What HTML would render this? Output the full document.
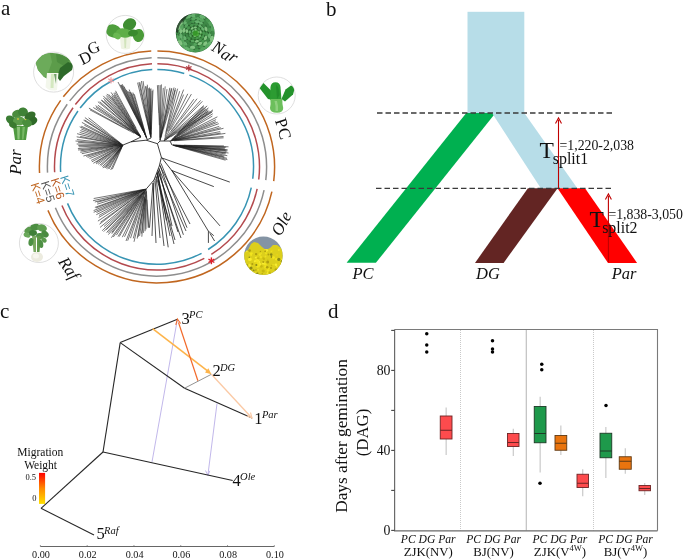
<!DOCTYPE html>
<html><head><meta charset="utf-8"><style>
html,body{margin:0;padding:0;background:#fff;}
body{width:685px;height:560px;overflow:hidden;font-family:"Liberation Serif",serif;}
svg{display:block;will-change:transform;}
</style></head><body>
<svg width="685" height="560" viewBox="0 0 685 560">
<defs>
<radialGradient id="gNar" cx="55%" cy="55%" r="55%"><stop offset="0" stop-color="#3a9a2c"/><stop offset="0.3" stop-color="#357f38"/><stop offset="0.8" stop-color="#367a40"/><stop offset="1" stop-color="#24502c"/></radialGradient>
<linearGradient id="gOle" x1="0" y1="0" x2="0" y2="1"><stop offset="0" stop-color="#8a9bab"/><stop offset="0.3" stop-color="#9aa37a"/><stop offset="0.4" stop-color="#d8cf1c"/><stop offset="1" stop-color="#c8b818"/></linearGradient>
<linearGradient id="gMig" x1="0" y1="1" x2="0" y2="0"><stop offset="0" stop-color="#ffe000"/><stop offset="0.5" stop-color="#ff8a00"/><stop offset="1" stop-color="#ff0000"/></linearGradient>
<clipPath id="cDG"><circle cx="125.2" cy="34.4" r="19"/></clipPath>
<clipPath id="cBC"><circle cx="53.6" cy="72.1" r="20"/></clipPath>
<clipPath id="cNar"><circle cx="195.2" cy="33" r="19.4"/></clipPath>
<clipPath id="cPC"><circle cx="276.7" cy="95.5" r="18.5"/></clipPath>
<clipPath id="cRaf"><circle cx="38.9" cy="243" r="19.5"/></clipPath>
<clipPath id="cOle"><circle cx="263.4" cy="255.7" r="19.2"/></clipPath>
</defs>
<rect width="685" height="560" fill="#fff"/>
<path d="M271.90,191.61A117.6,116.0 0 0 1 47.96,210.35 M39.56,172.97A117.6,116.0 0 0 1 60.67,100.37 M63.33,96.77A117.6,116.0 0 0 1 151.26,51.04 M157.41,50.90A117.6,116.0 0 0 1 273.72,181.04" fill="none" stroke="#c0661f" stroke-width="1.5"/><path d="M264.08,190.16A109.6,109.2 0 0 1 55.38,207.81 M47.55,172.62A109.6,109.2 0 0 1 67.22,104.27 M69.70,100.88A109.6,109.2 0 0 1 151.65,57.83 M157.38,57.70A109.6,109.2 0 0 1 265.78,180.21" fill="none" stroke="#8e8e8e" stroke-width="1.5"/><path d="M257.15,188.88A102.5,103.2 0 0 1 211.32,254.42 M204.33,258.44A102.5,103.2 0 0 1 61.96,205.56 M54.64,172.30A102.5,103.2 0 0 1 73.04,107.71 M75.36,104.51A102.5,103.2 0 0 1 151.99,63.82 M157.36,63.70A102.5,103.2 0 0 1 258.74,179.48" fill="none" stroke="#b44a4e" stroke-width="1.5"/><path d="M251.28,187.65A96.5,97.4 0 0 1 208.14,249.50 M201.56,253.29A96.5,97.4 0 0 1 67.53,203.39 M60.63,172.00A96.5,97.4 0 0 1 77.95,111.03 M80.13,108.01A96.5,97.4 0 0 1 152.29,69.62 M157.34,69.50A96.5,97.4 0 0 1 184.25,73.46 M189.37,75.14A96.5,97.4 0 0 1 252.78,178.77" fill="none" stroke="#3794b3" stroke-width="1.5"/><line x1="111.00" y1="77.20" x2="111.00" y2="83.60" stroke="#f0a0a4" stroke-width="1.2"/><line x1="113.77" y1="78.80" x2="108.23" y2="82.00" stroke="#f0a0a4" stroke-width="1.2"/><line x1="113.77" y1="82.00" x2="108.23" y2="78.80" stroke="#f0a0a4" stroke-width="1.2"/><line x1="188.80" y1="64.80" x2="188.80" y2="71.20" stroke="#b23a40" stroke-width="1.2"/><line x1="191.57" y1="66.40" x2="186.03" y2="69.60" stroke="#b23a40" stroke-width="1.2"/><line x1="191.57" y1="69.60" x2="186.03" y2="66.40" stroke="#b23a40" stroke-width="1.2"/><line x1="211.40" y1="257.40" x2="211.40" y2="264.20" stroke="#e0202a" stroke-width="1.4"/><line x1="214.34" y1="259.10" x2="208.46" y2="262.50" stroke="#e0202a" stroke-width="1.4"/><line x1="214.34" y1="262.50" x2="208.46" y2="259.10" stroke="#e0202a" stroke-width="1.4"/><line x1="157.4" y1="143.7" x2="146.2" y2="140.2" stroke="#1a1a1a" stroke-width="0.85"/><line x1="146.2" y1="140.2" x2="131.0" y2="141.8" stroke="#1a1a1a" stroke-width="0.85"/><line x1="131.0" y1="141.8" x2="123.0" y2="145.0" stroke="#1a1a1a" stroke-width="0.85"/><line x1="146.2" y1="140.2" x2="151.0" y2="138.0" stroke="#1a1a1a" stroke-width="0.85"/><line x1="131.0" y1="141.8" x2="141.0" y2="137.0" stroke="#1a1a1a" stroke-width="0.85"/><line x1="157.4" y1="143.7" x2="160.0" y2="141.0" stroke="#1a1a1a" stroke-width="0.85"/><line x1="160.0" y1="141.0" x2="164.0" y2="141.0" stroke="#1a1a1a" stroke-width="0.85"/><line x1="164.0" y1="141.0" x2="170.0" y2="141.0" stroke="#1a1a1a" stroke-width="0.85"/><line x1="170.0" y1="141.0" x2="172.0" y2="145.0" stroke="#1a1a1a" stroke-width="0.85"/><line x1="157.4" y1="143.7" x2="161.4" y2="157.3" stroke="#1a1a1a" stroke-width="0.85"/><line x1="161.4" y1="157.3" x2="159.3" y2="166.0" stroke="#1a1a1a" stroke-width="0.85"/><line x1="159.3" y1="166.0" x2="154.0" y2="180.0" stroke="#1a1a1a" stroke-width="0.85"/><line x1="154.0" y1="180.0" x2="146.3" y2="188.9" stroke="#1a1a1a" stroke-width="0.85"/><line x1="161.4" y1="157.3" x2="172.0" y2="170.8" stroke="#1a1a1a" stroke-width="0.85"/><line x1="146.2" y1="118.2" x2="137.6" y2="82.7" stroke="#1a1a1a" stroke-width="0.6"/><line x1="150.8" y1="137.1" x2="146.2" y2="118.2" stroke="#1a1a1a" stroke-width="0.48"/><line x1="150.6" y1="136.2" x2="138.9" y2="82.2" stroke="#1a1a1a" stroke-width="0.6"/><line x1="150.9" y1="137.5" x2="150.6" y2="136.2" stroke="#1a1a1a" stroke-width="0.48"/><line x1="150.6" y1="135.9" x2="139.8" y2="82.2" stroke="#1a1a1a" stroke-width="0.6"/><line x1="151.0" y1="137.9" x2="150.6" y2="135.9" stroke="#1a1a1a" stroke-width="0.48"/><line x1="150.3" y1="134.1" x2="141.4" y2="81.0" stroke="#1a1a1a" stroke-width="0.6"/><line x1="150.9" y1="137.5" x2="150.3" y2="134.1" stroke="#1a1a1a" stroke-width="0.48"/><line x1="148.5" y1="119.9" x2="143.1" y2="81.1" stroke="#1a1a1a" stroke-width="0.6"/><line x1="150.4" y1="133.7" x2="148.5" y2="119.9" stroke="#1a1a1a" stroke-width="0.48"/><line x1="148.4" y1="113.6" x2="145.5" y2="86.3" stroke="#1a1a1a" stroke-width="0.6"/><line x1="150.6" y1="133.8" x2="148.4" y2="113.6" stroke="#1a1a1a" stroke-width="0.48"/><line x1="150.2" y1="129.2" x2="146.1" y2="86.2" stroke="#1a1a1a" stroke-width="0.6"/><line x1="150.6" y1="133.7" x2="150.2" y2="129.2" stroke="#1a1a1a" stroke-width="0.48"/><line x1="149.7" y1="119.3" x2="147.3" y2="84.7" stroke="#1a1a1a" stroke-width="0.6"/><line x1="150.7" y1="133.8" x2="149.7" y2="119.3" stroke="#1a1a1a" stroke-width="0.48"/><line x1="150.9" y1="136.4" x2="148.6" y2="88.3" stroke="#1a1a1a" stroke-width="0.6"/><line x1="151.0" y1="137.8" x2="150.9" y2="136.4" stroke="#1a1a1a" stroke-width="0.48"/><line x1="150.7" y1="129.3" x2="149.5" y2="87.5" stroke="#1a1a1a" stroke-width="0.6"/><line x1="150.9" y1="134.9" x2="150.7" y2="129.3" stroke="#1a1a1a" stroke-width="0.48"/><line x1="150.7" y1="116.5" x2="150.2" y2="88.9" stroke="#1a1a1a" stroke-width="0.6"/><line x1="150.9" y1="129.0" x2="150.7" y2="116.5" stroke="#1a1a1a" stroke-width="0.48"/><line x1="151.0" y1="123.7" x2="151.0" y2="88.4" stroke="#1a1a1a" stroke-width="0.6"/><line x1="151.0" y1="130.5" x2="151.0" y2="123.7" stroke="#1a1a1a" stroke-width="0.48"/><line x1="151.6" y1="112.6" x2="152.2" y2="90.9" stroke="#1a1a1a" stroke-width="0.6"/><line x1="151.0" y1="136.2" x2="151.6" y2="112.6" stroke="#1a1a1a" stroke-width="0.48"/><line x1="151.2" y1="134.0" x2="153.0" y2="89.6" stroke="#1a1a1a" stroke-width="0.6"/><line x1="151.0" y1="136.8" x2="151.2" y2="134.0" stroke="#1a1a1a" stroke-width="0.48"/><line x1="134.8" y1="115.0" x2="118.0" y2="82.0" stroke="#1a1a1a" stroke-width="0.6"/><line x1="142.8" y1="130.8" x2="134.8" y2="115.0" stroke="#1a1a1a" stroke-width="0.48"/><line x1="136.8" y1="118.3" x2="120.4" y2="84.9" stroke="#1a1a1a" stroke-width="0.6"/><line x1="143.4" y1="131.6" x2="136.8" y2="118.3" stroke="#1a1a1a" stroke-width="0.48"/><line x1="135.0" y1="114.0" x2="121.0" y2="84.9" stroke="#1a1a1a" stroke-width="0.6"/><line x1="140.2" y1="124.8" x2="135.0" y2="114.0" stroke="#1a1a1a" stroke-width="0.48"/><line x1="146.2" y1="137.2" x2="121.7" y2="84.8" stroke="#1a1a1a" stroke-width="0.6"/><line x1="146.6" y1="138.2" x2="146.2" y2="137.2" stroke="#1a1a1a" stroke-width="0.48"/><line x1="135.9" y1="114.2" x2="122.3" y2="84.2" stroke="#1a1a1a" stroke-width="0.6"/><line x1="145.1" y1="134.8" x2="135.9" y2="114.2" stroke="#1a1a1a" stroke-width="0.48"/><line x1="146.7" y1="138.3" x2="124.1" y2="86.5" stroke="#1a1a1a" stroke-width="0.6"/><line x1="145.7" y1="135.8" x2="126.3" y2="89.8" stroke="#1a1a1a" stroke-width="0.6"/><line x1="147.0" y1="138.9" x2="145.7" y2="135.8" stroke="#1a1a1a" stroke-width="0.48"/><line x1="144.4" y1="132.5" x2="127.8" y2="91.0" stroke="#1a1a1a" stroke-width="0.6"/><line x1="146.4" y1="137.5" x2="144.4" y2="132.5" stroke="#1a1a1a" stroke-width="0.48"/><line x1="142.6" y1="127.4" x2="129.2" y2="92.0" stroke="#1a1a1a" stroke-width="0.6"/><line x1="145.5" y1="135.2" x2="142.6" y2="127.4" stroke="#1a1a1a" stroke-width="0.48"/><line x1="138.5" y1="115.5" x2="129.2" y2="89.5" stroke="#1a1a1a" stroke-width="0.6"/><line x1="145.6" y1="135.1" x2="138.5" y2="115.5" stroke="#1a1a1a" stroke-width="0.48"/><line x1="139.1" y1="116.1" x2="130.7" y2="92.0" stroke="#1a1a1a" stroke-width="0.6"/><line x1="142.4" y1="125.9" x2="139.1" y2="116.1" stroke="#1a1a1a" stroke-width="0.48"/><line x1="145.1" y1="133.2" x2="131.9" y2="93.4" stroke="#1a1a1a" stroke-width="0.6"/><line x1="146.7" y1="138.2" x2="145.1" y2="133.2" stroke="#1a1a1a" stroke-width="0.48"/><line x1="145.0" y1="132.3" x2="132.9" y2="92.5" stroke="#1a1a1a" stroke-width="0.6"/><line x1="147.0" y1="139.0" x2="145.0" y2="132.3" stroke="#1a1a1a" stroke-width="0.48"/><line x1="143.0" y1="125.0" x2="134.3" y2="94.2" stroke="#1a1a1a" stroke-width="0.6"/><line x1="144.7" y1="131.0" x2="143.0" y2="125.0" stroke="#1a1a1a" stroke-width="0.48"/><line x1="123.6" y1="127.8" x2="89.9" y2="109.8" stroke="#1a1a1a" stroke-width="0.6"/><line x1="134.0" y1="133.3" x2="123.6" y2="127.8" stroke="#1a1a1a" stroke-width="0.48"/><line x1="118.6" y1="124.6" x2="88.9" y2="108.1" stroke="#1a1a1a" stroke-width="0.6"/><line x1="129.3" y1="130.5" x2="118.6" y2="124.6" stroke="#1a1a1a" stroke-width="0.48"/><line x1="130.5" y1="130.5" x2="93.3" y2="107.5" stroke="#1a1a1a" stroke-width="0.6"/><line x1="140.3" y1="136.6" x2="130.5" y2="130.5" stroke="#1a1a1a" stroke-width="0.48"/><line x1="139.3" y1="135.9" x2="95.9" y2="107.3" stroke="#1a1a1a" stroke-width="0.6"/><line x1="140.8" y1="136.9" x2="139.3" y2="135.9" stroke="#1a1a1a" stroke-width="0.48"/><line x1="139.7" y1="136.1" x2="95.6" y2="105.7" stroke="#1a1a1a" stroke-width="0.6"/><line x1="141.0" y1="137.0" x2="139.7" y2="136.1" stroke="#1a1a1a" stroke-width="0.48"/><line x1="132.4" y1="130.6" x2="97.9" y2="105.2" stroke="#1a1a1a" stroke-width="0.6"/><line x1="140.9" y1="136.9" x2="132.4" y2="130.6" stroke="#1a1a1a" stroke-width="0.48"/><line x1="137.5" y1="134.1" x2="97.9" y2="101.7" stroke="#1a1a1a" stroke-width="0.6"/><line x1="140.5" y1="136.6" x2="137.5" y2="134.1" stroke="#1a1a1a" stroke-width="0.48"/><line x1="138.2" y1="134.6" x2="99.7" y2="101.7" stroke="#1a1a1a" stroke-width="0.6"/><line x1="139.6" y1="135.8" x2="138.2" y2="134.6" stroke="#1a1a1a" stroke-width="0.48"/><line x1="130.4" y1="127.1" x2="101.1" y2="100.0" stroke="#1a1a1a" stroke-width="0.6"/><line x1="140.5" y1="136.5" x2="130.4" y2="127.1" stroke="#1a1a1a" stroke-width="0.48"/><line x1="135.3" y1="131.6" x2="101.9" y2="100.2" stroke="#1a1a1a" stroke-width="0.6"/><line x1="138.2" y1="134.3" x2="135.3" y2="131.6" stroke="#1a1a1a" stroke-width="0.48"/><line x1="121.7" y1="118.0" x2="104.2" y2="100.6" stroke="#1a1a1a" stroke-width="0.6"/><line x1="134.9" y1="131.0" x2="121.7" y2="118.0" stroke="#1a1a1a" stroke-width="0.48"/><line x1="140.4" y1="136.4" x2="103.4" y2="98.2" stroke="#1a1a1a" stroke-width="0.6"/><line x1="123.1" y1="117.5" x2="103.3" y2="95.9" stroke="#1a1a1a" stroke-width="0.6"/><line x1="133.5" y1="128.8" x2="123.1" y2="117.5" stroke="#1a1a1a" stroke-width="0.48"/><line x1="137.8" y1="133.4" x2="106.2" y2="97.6" stroke="#1a1a1a" stroke-width="0.6"/><line x1="139.5" y1="135.3" x2="137.8" y2="133.4" stroke="#1a1a1a" stroke-width="0.48"/><line x1="134.7" y1="129.5" x2="106.2" y2="95.4" stroke="#1a1a1a" stroke-width="0.6"/><line x1="140.2" y1="136.0" x2="134.7" y2="129.5" stroke="#1a1a1a" stroke-width="0.48"/><line x1="125.0" y1="116.8" x2="106.9" y2="93.9" stroke="#1a1a1a" stroke-width="0.6"/><line x1="133.3" y1="127.2" x2="125.0" y2="116.8" stroke="#1a1a1a" stroke-width="0.48"/><line x1="137.0" y1="131.7" x2="108.7" y2="94.3" stroke="#1a1a1a" stroke-width="0.6"/><line x1="139.7" y1="135.3" x2="137.0" y2="131.7" stroke="#1a1a1a" stroke-width="0.48"/><line x1="140.5" y1="136.4" x2="111.4" y2="96.8" stroke="#1a1a1a" stroke-width="0.6"/><line x1="129.9" y1="121.2" x2="111.7" y2="95.5" stroke="#1a1a1a" stroke-width="0.6"/><line x1="134.6" y1="127.9" x2="129.9" y2="121.2" stroke="#1a1a1a" stroke-width="0.48"/><line x1="124.7" y1="112.8" x2="111.1" y2="92.4" stroke="#1a1a1a" stroke-width="0.6"/><line x1="131.7" y1="123.1" x2="124.7" y2="112.8" stroke="#1a1a1a" stroke-width="0.48"/><line x1="137.6" y1="131.7" x2="113.9" y2="94.9" stroke="#1a1a1a" stroke-width="0.6"/><line x1="140.6" y1="136.4" x2="137.6" y2="131.7" stroke="#1a1a1a" stroke-width="0.48"/><line x1="127.5" y1="115.2" x2="113.8" y2="92.9" stroke="#1a1a1a" stroke-width="0.6"/><line x1="134.2" y1="126.0" x2="127.5" y2="115.2" stroke="#1a1a1a" stroke-width="0.48"/><line x1="129.6" y1="117.3" x2="115.0" y2="92.3" stroke="#1a1a1a" stroke-width="0.6"/><line x1="140.4" y1="136.0" x2="129.6" y2="117.3" stroke="#1a1a1a" stroke-width="0.48"/><line x1="130.0" y1="117.1" x2="115.5" y2="90.8" stroke="#1a1a1a" stroke-width="0.6"/><line x1="136.1" y1="128.1" x2="130.0" y2="117.1" stroke="#1a1a1a" stroke-width="0.48"/><line x1="108.1" y1="133.2" x2="88.6" y2="117.8" stroke="#1a1a1a" stroke-width="0.6"/><line x1="120.0" y1="142.6" x2="108.1" y2="133.2" stroke="#1a1a1a" stroke-width="0.48"/><line x1="114.7" y1="139.0" x2="84.9" y2="117.6" stroke="#1a1a1a" stroke-width="0.6"/><line x1="121.0" y1="143.6" x2="114.7" y2="139.0" stroke="#1a1a1a" stroke-width="0.48"/><line x1="119.4" y1="142.7" x2="84.6" y2="119.9" stroke="#1a1a1a" stroke-width="0.6"/><line x1="122.7" y1="144.8" x2="119.4" y2="142.7" stroke="#1a1a1a" stroke-width="0.48"/><line x1="105.5" y1="134.0" x2="83.6" y2="120.2" stroke="#1a1a1a" stroke-width="0.6"/><line x1="121.5" y1="144.0" x2="105.5" y2="134.0" stroke="#1a1a1a" stroke-width="0.48"/><line x1="108.2" y1="136.8" x2="81.9" y2="122.4" stroke="#1a1a1a" stroke-width="0.6"/><line x1="119.9" y1="143.3" x2="108.2" y2="136.8" stroke="#1a1a1a" stroke-width="0.48"/><line x1="122.7" y1="144.8" x2="84.3" y2="125.2" stroke="#1a1a1a" stroke-width="0.6"/><line x1="110.9" y1="139.6" x2="81.2" y2="126.2" stroke="#1a1a1a" stroke-width="0.6"/><line x1="116.2" y1="142.0" x2="110.9" y2="139.6" stroke="#1a1a1a" stroke-width="0.48"/><line x1="103.3" y1="136.7" x2="79.7" y2="126.8" stroke="#1a1a1a" stroke-width="0.6"/><line x1="120.5" y1="144.0" x2="103.3" y2="136.7" stroke="#1a1a1a" stroke-width="0.48"/><line x1="117.5" y1="142.9" x2="81.3" y2="129.1" stroke="#1a1a1a" stroke-width="0.6"/><line x1="121.1" y1="144.3" x2="117.5" y2="142.9" stroke="#1a1a1a" stroke-width="0.48"/><line x1="119.9" y1="144.0" x2="80.3" y2="130.6" stroke="#1a1a1a" stroke-width="0.6"/><line x1="121.3" y1="144.4" x2="119.9" y2="144.0" stroke="#1a1a1a" stroke-width="0.48"/><line x1="109.1" y1="141.0" x2="79.6" y2="132.4" stroke="#1a1a1a" stroke-width="0.6"/><line x1="115.4" y1="142.8" x2="109.1" y2="141.0" stroke="#1a1a1a" stroke-width="0.48"/><line x1="110.3" y1="141.9" x2="77.1" y2="133.7" stroke="#1a1a1a" stroke-width="0.6"/><line x1="119.0" y1="144.0" x2="110.3" y2="141.9" stroke="#1a1a1a" stroke-width="0.48"/><line x1="112.6" y1="142.9" x2="80.2" y2="136.4" stroke="#1a1a1a" stroke-width="0.6"/><line x1="121.9" y1="144.8" x2="112.6" y2="142.9" stroke="#1a1a1a" stroke-width="0.48"/><line x1="118.6" y1="144.2" x2="76.7" y2="136.8" stroke="#1a1a1a" stroke-width="0.6"/><line x1="121.8" y1="144.8" x2="118.6" y2="144.2" stroke="#1a1a1a" stroke-width="0.48"/><line x1="114.7" y1="144.0" x2="76.9" y2="139.6" stroke="#1a1a1a" stroke-width="0.6"/><line x1="120.4" y1="144.7" x2="114.7" y2="144.0" stroke="#1a1a1a" stroke-width="0.48"/><line x1="120.2" y1="144.8" x2="75.5" y2="141.0" stroke="#1a1a1a" stroke-width="0.6"/><line x1="122.1" y1="144.9" x2="120.2" y2="144.8" stroke="#1a1a1a" stroke-width="0.48"/><line x1="103.9" y1="143.9" x2="78.1" y2="142.3" stroke="#1a1a1a" stroke-width="0.6"/><line x1="117.2" y1="144.7" x2="103.9" y2="143.9" stroke="#1a1a1a" stroke-width="0.48"/><line x1="99.8" y1="144.5" x2="76.7" y2="144.0" stroke="#1a1a1a" stroke-width="0.6"/><line x1="116.8" y1="144.9" x2="99.8" y2="144.5" stroke="#1a1a1a" stroke-width="0.48"/><line x1="110.4" y1="145.1" x2="78.3" y2="145.5" stroke="#1a1a1a" stroke-width="0.6"/><line x1="117.8" y1="145.1" x2="110.4" y2="145.1" stroke="#1a1a1a" stroke-width="0.48"/><line x1="111.3" y1="145.5" x2="78.7" y2="146.8" stroke="#1a1a1a" stroke-width="0.6"/><line x1="116.4" y1="145.3" x2="111.3" y2="145.5" stroke="#1a1a1a" stroke-width="0.48"/><line x1="99.6" y1="146.9" x2="77.9" y2="148.6" stroke="#1a1a1a" stroke-width="0.6"/><line x1="119.4" y1="145.3" x2="99.6" y2="146.9" stroke="#1a1a1a" stroke-width="0.48"/><line x1="102.3" y1="147.3" x2="78.1" y2="150.0" stroke="#1a1a1a" stroke-width="0.6"/><line x1="121.3" y1="145.2" x2="102.3" y2="147.3" stroke="#1a1a1a" stroke-width="0.48"/><line x1="121.3" y1="145.2" x2="80.5" y2="150.8" stroke="#1a1a1a" stroke-width="0.6"/><line x1="122.8" y1="145.0" x2="121.3" y2="145.2" stroke="#1a1a1a" stroke-width="0.48"/><line x1="104.6" y1="148.1" x2="80.3" y2="152.3" stroke="#1a1a1a" stroke-width="0.6"/><line x1="113.1" y1="146.7" x2="104.6" y2="148.1" stroke="#1a1a1a" stroke-width="0.48"/><line x1="108.0" y1="148.2" x2="81.8" y2="153.7" stroke="#1a1a1a" stroke-width="0.6"/><line x1="121.7" y1="145.3" x2="108.0" y2="148.2" stroke="#1a1a1a" stroke-width="0.48"/><line x1="118.2" y1="146.3" x2="83.4" y2="156.0" stroke="#1a1a1a" stroke-width="0.6"/><line x1="120.3" y1="145.8" x2="118.2" y2="146.3" stroke="#1a1a1a" stroke-width="0.48"/><line x1="102.9" y1="151.2" x2="86.1" y2="156.4" stroke="#1a1a1a" stroke-width="0.6"/><line x1="113.0" y1="148.1" x2="102.9" y2="151.2" stroke="#1a1a1a" stroke-width="0.48"/><line x1="113.0" y1="148.5" x2="87.6" y2="157.4" stroke="#1a1a1a" stroke-width="0.6"/><line x1="121.0" y1="145.7" x2="113.0" y2="148.5" stroke="#1a1a1a" stroke-width="0.48"/><line x1="109.7" y1="150.4" x2="89.5" y2="158.6" stroke="#1a1a1a" stroke-width="0.6"/><line x1="122.8" y1="145.1" x2="109.7" y2="150.4" stroke="#1a1a1a" stroke-width="0.48"/><line x1="122.7" y1="145.2" x2="91.1" y2="160.4" stroke="#1a1a1a" stroke-width="0.6"/><line x1="114.2" y1="149.7" x2="91.9" y2="161.8" stroke="#1a1a1a" stroke-width="0.6"/><line x1="122.7" y1="145.2" x2="114.2" y2="149.7" stroke="#1a1a1a" stroke-width="0.48"/><line x1="107.2" y1="154.8" x2="93.4" y2="163.3" stroke="#1a1a1a" stroke-width="0.6"/><line x1="122.0" y1="145.6" x2="107.2" y2="154.8" stroke="#1a1a1a" stroke-width="0.48"/><line x1="111.4" y1="152.5" x2="95.9" y2="162.5" stroke="#1a1a1a" stroke-width="0.6"/><line x1="121.1" y1="146.2" x2="111.4" y2="152.5" stroke="#1a1a1a" stroke-width="0.48"/><line x1="109.5" y1="154.5" x2="96.1" y2="163.9" stroke="#1a1a1a" stroke-width="0.6"/><line x1="116.4" y1="149.6" x2="109.5" y2="154.5" stroke="#1a1a1a" stroke-width="0.48"/><line x1="110.4" y1="154.7" x2="98.1" y2="164.3" stroke="#1a1a1a" stroke-width="0.6"/><line x1="118.7" y1="148.3" x2="110.4" y2="154.7" stroke="#1a1a1a" stroke-width="0.48"/><line x1="122.3" y1="145.6" x2="99.8" y2="165.2" stroke="#1a1a1a" stroke-width="0.6"/><line x1="122.7" y1="145.3" x2="122.3" y2="145.6" stroke="#1a1a1a" stroke-width="0.48"/><line x1="111.5" y1="155.7" x2="100.8" y2="165.8" stroke="#1a1a1a" stroke-width="0.6"/><line x1="118.6" y1="149.1" x2="111.5" y2="155.7" stroke="#1a1a1a" stroke-width="0.48"/><line x1="113.2" y1="155.3" x2="102.3" y2="166.8" stroke="#1a1a1a" stroke-width="0.6"/><line x1="122.6" y1="145.4" x2="113.2" y2="155.3" stroke="#1a1a1a" stroke-width="0.48"/><line x1="119.3" y1="149.3" x2="102.9" y2="168.1" stroke="#1a1a1a" stroke-width="0.6"/><line x1="121.8" y1="146.4" x2="119.3" y2="149.3" stroke="#1a1a1a" stroke-width="0.48"/><line x1="121.7" y1="146.6" x2="104.6" y2="168.0" stroke="#1a1a1a" stroke-width="0.6"/><line x1="122.6" y1="145.5" x2="121.7" y2="146.6" stroke="#1a1a1a" stroke-width="0.48"/><line x1="121.5" y1="147.0" x2="105.6" y2="167.8" stroke="#1a1a1a" stroke-width="0.6"/><line x1="123.0" y1="145.1" x2="121.5" y2="147.0" stroke="#1a1a1a" stroke-width="0.48"/><line x1="120.2" y1="148.9" x2="106.5" y2="168.5" stroke="#1a1a1a" stroke-width="0.6"/><line x1="121.7" y1="146.8" x2="120.2" y2="148.9" stroke="#1a1a1a" stroke-width="0.48"/><line x1="121.5" y1="147.4" x2="107.7" y2="169.2" stroke="#1a1a1a" stroke-width="0.6"/><line x1="122.7" y1="145.5" x2="121.5" y2="147.4" stroke="#1a1a1a" stroke-width="0.48"/><line x1="122.9" y1="145.2" x2="109.1" y2="168.9" stroke="#1a1a1a" stroke-width="0.6"/><line x1="121.7" y1="147.6" x2="110.7" y2="170.0" stroke="#1a1a1a" stroke-width="0.6"/><line x1="122.6" y1="145.7" x2="121.7" y2="147.6" stroke="#1a1a1a" stroke-width="0.48"/><line x1="118.2" y1="155.9" x2="112.3" y2="169.2" stroke="#1a1a1a" stroke-width="0.6"/><line x1="121.7" y1="147.8" x2="118.2" y2="155.9" stroke="#1a1a1a" stroke-width="0.48"/><line x1="134.9" y1="191.0" x2="93.7" y2="198.5" stroke="#1a1a1a" stroke-width="0.6"/><line x1="142.8" y1="189.5" x2="134.9" y2="191.0" stroke="#1a1a1a" stroke-width="0.48"/><line x1="136.3" y1="191.1" x2="93.1" y2="200.7" stroke="#1a1a1a" stroke-width="0.6"/><line x1="141.3" y1="190.0" x2="136.3" y2="191.1" stroke="#1a1a1a" stroke-width="0.48"/><line x1="134.8" y1="191.8" x2="94.8" y2="202.0" stroke="#1a1a1a" stroke-width="0.6"/><line x1="143.9" y1="189.5" x2="134.8" y2="191.8" stroke="#1a1a1a" stroke-width="0.48"/><line x1="144.4" y1="189.4" x2="97.2" y2="202.3" stroke="#1a1a1a" stroke-width="0.6"/><line x1="145.5" y1="189.1" x2="144.4" y2="189.4" stroke="#1a1a1a" stroke-width="0.48"/><line x1="144.0" y1="189.6" x2="97.1" y2="204.2" stroke="#1a1a1a" stroke-width="0.6"/><line x1="145.1" y1="189.3" x2="144.0" y2="189.6" stroke="#1a1a1a" stroke-width="0.48"/><line x1="138.3" y1="191.8" x2="94.9" y2="207.4" stroke="#1a1a1a" stroke-width="0.6"/><line x1="145.1" y1="189.3" x2="138.3" y2="191.8" stroke="#1a1a1a" stroke-width="0.48"/><line x1="141.9" y1="190.6" x2="95.9" y2="208.0" stroke="#1a1a1a" stroke-width="0.6"/><line x1="145.1" y1="189.3" x2="141.9" y2="190.6" stroke="#1a1a1a" stroke-width="0.48"/><line x1="118.1" y1="200.5" x2="93.6" y2="210.6" stroke="#1a1a1a" stroke-width="0.6"/><line x1="137.1" y1="192.7" x2="118.1" y2="200.5" stroke="#1a1a1a" stroke-width="0.48"/><line x1="137.3" y1="192.9" x2="93.7" y2="212.3" stroke="#1a1a1a" stroke-width="0.6"/><line x1="144.4" y1="189.8" x2="137.3" y2="192.9" stroke="#1a1a1a" stroke-width="0.48"/><line x1="133.3" y1="195.1" x2="96.5" y2="212.5" stroke="#1a1a1a" stroke-width="0.6"/><line x1="142.4" y1="190.8" x2="133.3" y2="195.1" stroke="#1a1a1a" stroke-width="0.48"/><line x1="146.2" y1="189.0" x2="96.3" y2="214.7" stroke="#1a1a1a" stroke-width="0.6"/><line x1="135.9" y1="194.7" x2="99.0" y2="215.5" stroke="#1a1a1a" stroke-width="0.6"/><line x1="146.0" y1="189.0" x2="135.9" y2="194.7" stroke="#1a1a1a" stroke-width="0.48"/><line x1="140.2" y1="192.6" x2="98.7" y2="217.5" stroke="#1a1a1a" stroke-width="0.6"/><line x1="144.2" y1="190.2" x2="140.2" y2="192.6" stroke="#1a1a1a" stroke-width="0.48"/><line x1="128.8" y1="200.5" x2="97.9" y2="221.1" stroke="#1a1a1a" stroke-width="0.6"/><line x1="138.8" y1="193.9" x2="128.8" y2="200.5" stroke="#1a1a1a" stroke-width="0.48"/><line x1="138.1" y1="194.9" x2="100.5" y2="222.2" stroke="#1a1a1a" stroke-width="0.6"/><line x1="141.4" y1="192.4" x2="138.1" y2="194.9" stroke="#1a1a1a" stroke-width="0.48"/><line x1="129.7" y1="201.4" x2="99.5" y2="224.2" stroke="#1a1a1a" stroke-width="0.6"/><line x1="145.9" y1="189.2" x2="129.7" y2="201.4" stroke="#1a1a1a" stroke-width="0.48"/><line x1="130.4" y1="202.2" x2="100.1" y2="227.4" stroke="#1a1a1a" stroke-width="0.6"/><line x1="139.3" y1="194.7" x2="130.4" y2="202.2" stroke="#1a1a1a" stroke-width="0.48"/><line x1="134.1" y1="199.7" x2="104.0" y2="226.5" stroke="#1a1a1a" stroke-width="0.6"/><line x1="142.6" y1="192.2" x2="134.1" y2="199.7" stroke="#1a1a1a" stroke-width="0.48"/><line x1="126.2" y1="207.9" x2="102.2" y2="230.7" stroke="#1a1a1a" stroke-width="0.6"/><line x1="139.3" y1="195.6" x2="126.2" y2="207.9" stroke="#1a1a1a" stroke-width="0.48"/><line x1="130.1" y1="205.2" x2="103.7" y2="231.6" stroke="#1a1a1a" stroke-width="0.6"/><line x1="144.1" y1="191.1" x2="130.1" y2="205.2" stroke="#1a1a1a" stroke-width="0.48"/><line x1="138.4" y1="197.0" x2="106.3" y2="229.8" stroke="#1a1a1a" stroke-width="0.6"/><line x1="145.8" y1="189.4" x2="138.4" y2="197.0" stroke="#1a1a1a" stroke-width="0.48"/><line x1="132.6" y1="203.9" x2="106.6" y2="232.5" stroke="#1a1a1a" stroke-width="0.6"/><line x1="141.2" y1="194.6" x2="132.6" y2="203.9" stroke="#1a1a1a" stroke-width="0.48"/><line x1="146.2" y1="189.0" x2="108.0" y2="232.8" stroke="#1a1a1a" stroke-width="0.6"/><line x1="135.8" y1="201.6" x2="108.4" y2="234.6" stroke="#1a1a1a" stroke-width="0.6"/><line x1="142.9" y1="193.0" x2="135.8" y2="201.6" stroke="#1a1a1a" stroke-width="0.48"/><line x1="132.3" y1="206.5" x2="111.8" y2="232.4" stroke="#1a1a1a" stroke-width="0.6"/><line x1="144.2" y1="191.6" x2="132.3" y2="206.5" stroke="#1a1a1a" stroke-width="0.48"/><line x1="132.5" y1="206.9" x2="111.8" y2="233.7" stroke="#1a1a1a" stroke-width="0.6"/><line x1="144.6" y1="191.1" x2="132.5" y2="206.9" stroke="#1a1a1a" stroke-width="0.48"/><line x1="136.8" y1="202.2" x2="111.4" y2="237.7" stroke="#1a1a1a" stroke-width="0.6"/><line x1="144.1" y1="191.9" x2="136.8" y2="202.2" stroke="#1a1a1a" stroke-width="0.48"/><line x1="132.4" y1="209.2" x2="113.3" y2="237.0" stroke="#1a1a1a" stroke-width="0.6"/><line x1="141.2" y1="196.4" x2="132.4" y2="209.2" stroke="#1a1a1a" stroke-width="0.48"/><line x1="143.9" y1="192.6" x2="116.4" y2="235.1" stroke="#1a1a1a" stroke-width="0.6"/><line x1="145.9" y1="189.5" x2="143.9" y2="192.6" stroke="#1a1a1a" stroke-width="0.48"/><line x1="137.5" y1="203.8" x2="118.0" y2="236.6" stroke="#1a1a1a" stroke-width="0.6"/><line x1="146.2" y1="189.0" x2="137.5" y2="203.8" stroke="#1a1a1a" stroke-width="0.48"/><line x1="136.3" y1="206.5" x2="119.3" y2="236.6" stroke="#1a1a1a" stroke-width="0.6"/><line x1="142.2" y1="196.2" x2="136.3" y2="206.5" stroke="#1a1a1a" stroke-width="0.48"/><line x1="139.5" y1="202.6" x2="122.3" y2="237.2" stroke="#1a1a1a" stroke-width="0.6"/><line x1="144.4" y1="192.7" x2="139.5" y2="202.6" stroke="#1a1a1a" stroke-width="0.48"/><line x1="135.6" y1="212.4" x2="124.5" y2="236.8" stroke="#1a1a1a" stroke-width="0.6"/><line x1="145.0" y1="191.7" x2="135.6" y2="212.4" stroke="#1a1a1a" stroke-width="0.48"/><line x1="146.1" y1="189.4" x2="126.0" y2="241.0" stroke="#1a1a1a" stroke-width="0.6"/><line x1="136.4" y1="216.5" x2="127.7" y2="240.7" stroke="#1a1a1a" stroke-width="0.6"/><line x1="143.6" y1="196.3" x2="136.4" y2="216.5" stroke="#1a1a1a" stroke-width="0.48"/><line x1="138.1" y1="214.6" x2="130.5" y2="238.2" stroke="#1a1a1a" stroke-width="0.6"/><line x1="145.3" y1="192.1" x2="138.1" y2="214.6" stroke="#1a1a1a" stroke-width="0.48"/><line x1="142.5" y1="203.2" x2="133.3" y2="238.4" stroke="#1a1a1a" stroke-width="0.6"/><line x1="144.2" y1="197.0" x2="142.5" y2="203.2" stroke="#1a1a1a" stroke-width="0.48"/><line x1="142.9" y1="203.7" x2="134.0" y2="241.8" stroke="#1a1a1a" stroke-width="0.6"/><line x1="144.5" y1="196.8" x2="142.9" y2="203.7" stroke="#1a1a1a" stroke-width="0.48"/><line x1="141.8" y1="213.4" x2="137.2" y2="238.6" stroke="#1a1a1a" stroke-width="0.6"/><line x1="145.0" y1="196.1" x2="141.8" y2="213.4" stroke="#1a1a1a" stroke-width="0.48"/><line x1="144.1" y1="201.9" x2="138.1" y2="236.9" stroke="#1a1a1a" stroke-width="0.6"/><line x1="145.7" y1="192.4" x2="144.1" y2="201.9" stroke="#1a1a1a" stroke-width="0.48"/><line x1="145.0" y1="197.8" x2="139.6" y2="235.9" stroke="#1a1a1a" stroke-width="0.6"/><line x1="146.1" y1="190.6" x2="145.0" y2="197.8" stroke="#1a1a1a" stroke-width="0.48"/><line x1="144.3" y1="207.3" x2="141.5" y2="233.5" stroke="#1a1a1a" stroke-width="0.6"/><line x1="145.3" y1="198.2" x2="144.3" y2="207.3" stroke="#1a1a1a" stroke-width="0.48"/><line x1="144.5" y1="207.7" x2="141.8" y2="236.7" stroke="#1a1a1a" stroke-width="0.6"/><line x1="145.3" y1="199.0" x2="144.5" y2="207.7" stroke="#1a1a1a" stroke-width="0.48"/><line x1="145.7" y1="198.4" x2="143.5" y2="232.9" stroke="#1a1a1a" stroke-width="0.6"/><line x1="145.9" y1="194.6" x2="145.7" y2="198.4" stroke="#1a1a1a" stroke-width="0.48"/><line x1="146.0" y1="198.9" x2="145.1" y2="231.2" stroke="#1a1a1a" stroke-width="0.6"/><line x1="146.3" y1="190.5" x2="146.0" y2="198.9" stroke="#1a1a1a" stroke-width="0.48"/><line x1="146.2" y1="207.5" x2="146.0" y2="229.4" stroke="#1a1a1a" stroke-width="0.6"/><line x1="146.3" y1="192.1" x2="146.2" y2="207.5" stroke="#1a1a1a" stroke-width="0.48"/><line x1="146.6" y1="194.6" x2="148.2" y2="227.8" stroke="#1a1a1a" stroke-width="0.6"/><line x1="146.4" y1="190.6" x2="146.6" y2="194.6" stroke="#1a1a1a" stroke-width="0.48"/><line x1="147.6" y1="209.2" x2="148.8" y2="227.6" stroke="#1a1a1a" stroke-width="0.6"/><line x1="147.0" y1="199.7" x2="147.6" y2="209.2" stroke="#1a1a1a" stroke-width="0.48"/><line x1="158.7" y1="113.0" x2="157.4" y2="85.2" stroke="#1a1a1a" stroke-width="0.6"/><line x1="159.3" y1="125.2" x2="158.7" y2="113.0" stroke="#1a1a1a" stroke-width="0.48"/><line x1="160.0" y1="139.5" x2="158.7" y2="85.0" stroke="#1a1a1a" stroke-width="0.6"/><line x1="160.0" y1="140.3" x2="160.0" y2="139.5" stroke="#1a1a1a" stroke-width="0.48"/><line x1="160.1" y1="121.2" x2="160.2" y2="85.1" stroke="#1a1a1a" stroke-width="0.6"/><line x1="160.0" y1="137.6" x2="160.1" y2="121.2" stroke="#1a1a1a" stroke-width="0.48"/><line x1="160.1" y1="137.0" x2="161.4" y2="84.4" stroke="#1a1a1a" stroke-width="0.6"/><line x1="160.0" y1="139.9" x2="160.1" y2="137.0" stroke="#1a1a1a" stroke-width="0.48"/><line x1="161.3" y1="119.4" x2="163.3" y2="87.9" stroke="#1a1a1a" stroke-width="0.6"/><line x1="160.8" y1="128.4" x2="161.3" y2="119.4" stroke="#1a1a1a" stroke-width="0.48"/><line x1="160.9" y1="132.0" x2="165.2" y2="86.4" stroke="#1a1a1a" stroke-width="0.6"/><line x1="160.3" y1="138.0" x2="160.9" y2="132.0" stroke="#1a1a1a" stroke-width="0.48"/><line x1="160.6" y1="136.4" x2="167.0" y2="89.1" stroke="#1a1a1a" stroke-width="0.6"/><line x1="160.1" y1="140.4" x2="160.6" y2="136.4" stroke="#1a1a1a" stroke-width="0.48"/><line x1="161.2" y1="134.6" x2="169.8" y2="87.8" stroke="#1a1a1a" stroke-width="0.6"/><line x1="160.6" y1="137.5" x2="161.2" y2="134.6" stroke="#1a1a1a" stroke-width="0.48"/><line x1="160.9" y1="136.9" x2="171.4" y2="88.1" stroke="#1a1a1a" stroke-width="0.6"/><line x1="160.1" y1="140.5" x2="160.9" y2="136.9" stroke="#1a1a1a" stroke-width="0.48"/><line x1="160.6" y1="138.4" x2="171.9" y2="88.6" stroke="#1a1a1a" stroke-width="0.6"/><line x1="160.1" y1="140.6" x2="160.6" y2="138.4" stroke="#1a1a1a" stroke-width="0.48"/><line x1="166.8" y1="114.9" x2="174.0" y2="87.5" stroke="#1a1a1a" stroke-width="0.6"/><line x1="163.1" y1="129.3" x2="166.8" y2="114.9" stroke="#1a1a1a" stroke-width="0.48"/><line x1="164.5" y1="125.8" x2="175.5" y2="88.2" stroke="#1a1a1a" stroke-width="0.6"/><line x1="161.0" y1="137.6" x2="164.5" y2="125.8" stroke="#1a1a1a" stroke-width="0.48"/><line x1="165.7" y1="133.2" x2="175.3" y2="89.9" stroke="#1a1a1a" stroke-width="0.6"/><line x1="165.0" y1="136.5" x2="165.7" y2="133.2" stroke="#1a1a1a" stroke-width="0.48"/><line x1="168.7" y1="122.9" x2="177.6" y2="88.7" stroke="#1a1a1a" stroke-width="0.6"/><line x1="166.4" y1="131.6" x2="168.7" y2="122.9" stroke="#1a1a1a" stroke-width="0.48"/><line x1="166.2" y1="134.2" x2="179.7" y2="91.2" stroke="#1a1a1a" stroke-width="0.6"/><line x1="164.5" y1="139.4" x2="166.2" y2="134.2" stroke="#1a1a1a" stroke-width="0.48"/><line x1="173.2" y1="117.0" x2="183.6" y2="89.6" stroke="#1a1a1a" stroke-width="0.6"/><line x1="168.8" y1="128.4" x2="173.2" y2="117.0" stroke="#1a1a1a" stroke-width="0.48"/><line x1="171.7" y1="122.9" x2="183.6" y2="94.6" stroke="#1a1a1a" stroke-width="0.6"/><line x1="168.1" y1="131.3" x2="171.7" y2="122.9" stroke="#1a1a1a" stroke-width="0.48"/><line x1="164.0" y1="141.0" x2="187.8" y2="93.8" stroke="#1a1a1a" stroke-width="0.6"/><line x1="176.4" y1="119.7" x2="191.4" y2="94.1" stroke="#1a1a1a" stroke-width="0.6"/><line x1="170.4" y1="130.1" x2="176.4" y2="119.7" stroke="#1a1a1a" stroke-width="0.48"/><line x1="165.8" y1="138.5" x2="193.8" y2="99.2" stroke="#1a1a1a" stroke-width="0.6"/><line x1="164.2" y1="140.8" x2="165.8" y2="138.5" stroke="#1a1a1a" stroke-width="0.48"/><line x1="181.1" y1="119.1" x2="197.1" y2="98.7" stroke="#1a1a1a" stroke-width="0.6"/><line x1="171.4" y1="131.5" x2="181.1" y2="119.1" stroke="#1a1a1a" stroke-width="0.48"/><line x1="173.2" y1="130.8" x2="200.6" y2="100.4" stroke="#1a1a1a" stroke-width="0.6"/><line x1="167.0" y1="137.6" x2="173.2" y2="130.8" stroke="#1a1a1a" stroke-width="0.48"/><line x1="168.9" y1="135.9" x2="202.4" y2="101.3" stroke="#1a1a1a" stroke-width="0.6"/><line x1="166.7" y1="138.2" x2="168.9" y2="135.9" stroke="#1a1a1a" stroke-width="0.48"/><line x1="166.8" y1="138.5" x2="203.8" y2="105.5" stroke="#1a1a1a" stroke-width="0.6"/><line x1="164.4" y1="140.6" x2="166.8" y2="138.5" stroke="#1a1a1a" stroke-width="0.48"/><line x1="166.7" y1="138.8" x2="207.2" y2="105.9" stroke="#1a1a1a" stroke-width="0.6"/><line x1="164.1" y1="140.9" x2="166.7" y2="138.8" stroke="#1a1a1a" stroke-width="0.48"/><line x1="173.5" y1="133.9" x2="208.5" y2="107.9" stroke="#1a1a1a" stroke-width="0.6"/><line x1="165.3" y1="140.1" x2="173.5" y2="133.9" stroke="#1a1a1a" stroke-width="0.48"/><line x1="171.3" y1="136.1" x2="208.1" y2="111.4" stroke="#1a1a1a" stroke-width="0.6"/><line x1="166.0" y1="139.6" x2="171.3" y2="136.1" stroke="#1a1a1a" stroke-width="0.48"/><line x1="187.6" y1="126.5" x2="212.6" y2="111.3" stroke="#1a1a1a" stroke-width="0.6"/><line x1="170.7" y1="136.9" x2="187.6" y2="126.5" stroke="#1a1a1a" stroke-width="0.48"/><line x1="187.8" y1="122.7" x2="203.7" y2="106.4" stroke="#1a1a1a" stroke-width="0.6"/><line x1="177.5" y1="133.3" x2="187.8" y2="122.7" stroke="#1a1a1a" stroke-width="0.48"/><line x1="179.3" y1="131.9" x2="203.8" y2="107.7" stroke="#1a1a1a" stroke-width="0.6"/><line x1="173.7" y1="137.3" x2="179.3" y2="131.9" stroke="#1a1a1a" stroke-width="0.48"/><line x1="183.1" y1="128.8" x2="205.6" y2="107.8" stroke="#1a1a1a" stroke-width="0.6"/><line x1="177.3" y1="134.2" x2="183.1" y2="128.8" stroke="#1a1a1a" stroke-width="0.48"/><line x1="176.6" y1="135.1" x2="205.7" y2="109.2" stroke="#1a1a1a" stroke-width="0.6"/><line x1="171.7" y1="139.5" x2="176.6" y2="135.1" stroke="#1a1a1a" stroke-width="0.48"/><line x1="186.4" y1="127.3" x2="207.5" y2="109.7" stroke="#1a1a1a" stroke-width="0.6"/><line x1="177.3" y1="134.9" x2="186.4" y2="127.3" stroke="#1a1a1a" stroke-width="0.48"/><line x1="190.5" y1="124.7" x2="208.4" y2="110.4" stroke="#1a1a1a" stroke-width="0.6"/><line x1="173.8" y1="137.9" x2="190.5" y2="124.7" stroke="#1a1a1a" stroke-width="0.48"/><line x1="174.8" y1="137.4" x2="209.6" y2="111.2" stroke="#1a1a1a" stroke-width="0.6"/><line x1="172.2" y1="139.3" x2="174.8" y2="137.4" stroke="#1a1a1a" stroke-width="0.48"/><line x1="181.7" y1="132.5" x2="213.0" y2="109.8" stroke="#1a1a1a" stroke-width="0.6"/><line x1="171.3" y1="140.0" x2="181.7" y2="132.5" stroke="#1a1a1a" stroke-width="0.48"/><line x1="185.3" y1="130.4" x2="211.9" y2="112.1" stroke="#1a1a1a" stroke-width="0.6"/><line x1="178.7" y1="135.0" x2="185.3" y2="130.4" stroke="#1a1a1a" stroke-width="0.48"/><line x1="175.0" y1="137.8" x2="212.8" y2="113.7" stroke="#1a1a1a" stroke-width="0.6"/><line x1="172.9" y1="139.1" x2="175.0" y2="137.8" stroke="#1a1a1a" stroke-width="0.48"/><line x1="171.4" y1="140.2" x2="212.4" y2="116.1" stroke="#1a1a1a" stroke-width="0.6"/><line x1="170.3" y1="140.8" x2="171.4" y2="140.2" stroke="#1a1a1a" stroke-width="0.48"/><line x1="189.1" y1="131.2" x2="217.4" y2="116.8" stroke="#1a1a1a" stroke-width="0.6"/><line x1="181.4" y1="135.2" x2="189.1" y2="131.2" stroke="#1a1a1a" stroke-width="0.48"/><line x1="174.7" y1="138.8" x2="216.1" y2="119.6" stroke="#1a1a1a" stroke-width="0.6"/><line x1="172.6" y1="139.8" x2="174.7" y2="138.8" stroke="#1a1a1a" stroke-width="0.48"/><line x1="186.7" y1="133.9" x2="215.7" y2="121.6" stroke="#1a1a1a" stroke-width="0.6"/><line x1="173.8" y1="139.4" x2="186.7" y2="133.9" stroke="#1a1a1a" stroke-width="0.48"/><line x1="174.4" y1="139.3" x2="217.7" y2="122.2" stroke="#1a1a1a" stroke-width="0.6"/><line x1="170.0" y1="141.0" x2="174.4" y2="139.3" stroke="#1a1a1a" stroke-width="0.48"/><line x1="195.6" y1="131.9" x2="218.8" y2="123.7" stroke="#1a1a1a" stroke-width="0.6"/><line x1="171.9" y1="140.3" x2="195.6" y2="131.9" stroke="#1a1a1a" stroke-width="0.48"/><line x1="179.7" y1="138.1" x2="219.2" y2="126.4" stroke="#1a1a1a" stroke-width="0.6"/><line x1="174.8" y1="139.6" x2="179.7" y2="138.1" stroke="#1a1a1a" stroke-width="0.48"/><line x1="171.4" y1="140.6" x2="220.8" y2="127.7" stroke="#1a1a1a" stroke-width="0.6"/><line x1="170.4" y1="140.9" x2="171.4" y2="140.6" stroke="#1a1a1a" stroke-width="0.48"/><line x1="175.7" y1="139.7" x2="223.5" y2="128.3" stroke="#1a1a1a" stroke-width="0.6"/><line x1="171.2" y1="140.7" x2="175.7" y2="139.7" stroke="#1a1a1a" stroke-width="0.48"/><line x1="181.3" y1="138.9" x2="220.2" y2="131.6" stroke="#1a1a1a" stroke-width="0.6"/><line x1="175.5" y1="140.0" x2="181.3" y2="138.9" stroke="#1a1a1a" stroke-width="0.48"/><line x1="171.0" y1="140.8" x2="220.8" y2="133.1" stroke="#1a1a1a" stroke-width="0.6"/><line x1="177.8" y1="139.9" x2="225.4" y2="133.4" stroke="#1a1a1a" stroke-width="0.6"/><line x1="173.5" y1="140.5" x2="177.8" y2="139.9" stroke="#1a1a1a" stroke-width="0.48"/><line x1="178.0" y1="140.3" x2="223.5" y2="136.5" stroke="#1a1a1a" stroke-width="0.6"/><line x1="174.6" y1="140.6" x2="178.0" y2="140.3" stroke="#1a1a1a" stroke-width="0.48"/><line x1="191.1" y1="139.7" x2="223.6" y2="137.8" stroke="#1a1a1a" stroke-width="0.6"/><line x1="174.0" y1="140.8" x2="191.1" y2="139.7" stroke="#1a1a1a" stroke-width="0.48"/><line x1="193.6" y1="145.4" x2="223.9" y2="145.9" stroke="#1a1a1a" stroke-width="0.6"/><line x1="183.9" y1="145.2" x2="193.6" y2="145.4" stroke="#1a1a1a" stroke-width="0.48"/><line x1="172.8" y1="145.0" x2="228.5" y2="146.8" stroke="#1a1a1a" stroke-width="0.6"/><line x1="200.5" y1="146.2" x2="226.2" y2="147.2" stroke="#1a1a1a" stroke-width="0.6"/><line x1="188.3" y1="145.7" x2="200.5" y2="146.2" stroke="#1a1a1a" stroke-width="0.48"/><line x1="184.5" y1="145.7" x2="225.1" y2="147.9" stroke="#1a1a1a" stroke-width="0.6"/><line x1="175.7" y1="145.2" x2="184.5" y2="145.7" stroke="#1a1a1a" stroke-width="0.48"/><line x1="195.3" y1="146.7" x2="224.7" y2="148.9" stroke="#1a1a1a" stroke-width="0.6"/><line x1="182.3" y1="145.8" x2="195.3" y2="146.7" stroke="#1a1a1a" stroke-width="0.48"/><line x1="190.6" y1="146.6" x2="227.6" y2="149.7" stroke="#1a1a1a" stroke-width="0.6"/><line x1="175.7" y1="145.3" x2="190.6" y2="146.6" stroke="#1a1a1a" stroke-width="0.48"/><line x1="195.0" y1="147.2" x2="225.6" y2="150.0" stroke="#1a1a1a" stroke-width="0.6"/><line x1="173.1" y1="145.1" x2="195.0" y2="147.2" stroke="#1a1a1a" stroke-width="0.48"/><line x1="179.5" y1="145.8" x2="227.5" y2="150.8" stroke="#1a1a1a" stroke-width="0.6"/><line x1="172.3" y1="145.0" x2="179.5" y2="145.8" stroke="#1a1a1a" stroke-width="0.48"/><line x1="181.8" y1="146.1" x2="226.5" y2="151.4" stroke="#1a1a1a" stroke-width="0.6"/><line x1="177.7" y1="145.7" x2="181.8" y2="146.1" stroke="#1a1a1a" stroke-width="0.48"/><line x1="180.2" y1="146.2" x2="228.5" y2="153.0" stroke="#1a1a1a" stroke-width="0.6"/><line x1="172.4" y1="145.1" x2="180.2" y2="146.2" stroke="#1a1a1a" stroke-width="0.48"/><line x1="193.1" y1="148.1" x2="226.0" y2="153.1" stroke="#1a1a1a" stroke-width="0.6"/><line x1="177.7" y1="145.8" x2="193.1" y2="148.1" stroke="#1a1a1a" stroke-width="0.48"/><line x1="190.2" y1="148.1" x2="225.4" y2="154.0" stroke="#1a1a1a" stroke-width="0.6"/><line x1="179.4" y1="146.2" x2="190.2" y2="148.1" stroke="#1a1a1a" stroke-width="0.48"/><line x1="192.2" y1="148.9" x2="227.3" y2="155.7" stroke="#1a1a1a" stroke-width="0.6"/><line x1="173.5" y1="145.3" x2="192.2" y2="148.9" stroke="#1a1a1a" stroke-width="0.48"/><line x1="188.3" y1="148.5" x2="224.4" y2="156.2" stroke="#1a1a1a" stroke-width="0.6"/><line x1="175.7" y1="145.8" x2="188.3" y2="148.5" stroke="#1a1a1a" stroke-width="0.48"/><line x1="179.0" y1="146.6" x2="223.8" y2="156.9" stroke="#1a1a1a" stroke-width="0.6"/><line x1="173.0" y1="145.2" x2="179.0" y2="146.6" stroke="#1a1a1a" stroke-width="0.48"/><line x1="189.5" y1="149.2" x2="227.0" y2="158.3" stroke="#1a1a1a" stroke-width="0.6"/><line x1="175.4" y1="145.8" x2="189.5" y2="149.2" stroke="#1a1a1a" stroke-width="0.48"/><line x1="187.4" y1="149.1" x2="227.4" y2="159.6" stroke="#1a1a1a" stroke-width="0.6"/><line x1="174.1" y1="145.6" x2="187.4" y2="149.1" stroke="#1a1a1a" stroke-width="0.48"/><line x1="201.2" y1="153.3" x2="225.5" y2="160.2" stroke="#1a1a1a" stroke-width="0.6"/><line x1="173.8" y1="145.5" x2="201.2" y2="153.3" stroke="#1a1a1a" stroke-width="0.48"/><line x1="161.0" y1="163.4" x2="187.0" y2="227.7" stroke="#1a1a1a" stroke-width="0.75"/><line x1="160.0" y1="165.0" x2="183.4" y2="234.8" stroke="#1a1a1a" stroke-width="0.75"/><line x1="157.5" y1="172.3" x2="168.2" y2="247.3" stroke="#1a1a1a" stroke-width="0.75"/><line x1="157.5" y1="172.3" x2="166.4" y2="220.5" stroke="#1a1a1a" stroke-width="0.75"/><line x1="153.0" y1="183.0" x2="149.5" y2="227.7" stroke="#1a1a1a" stroke-width="0.75"/><line x1="156.0" y1="176.0" x2="175.0" y2="240.0" stroke="#1a1a1a" stroke-width="0.75"/><line x1="158.0" y1="170.0" x2="178.0" y2="232.0" stroke="#1a1a1a" stroke-width="0.75"/><line x1="155.0" y1="179.0" x2="160.0" y2="238.0" stroke="#1a1a1a" stroke-width="0.75"/><line x1="159.0" y1="168.0" x2="172.0" y2="226.0" stroke="#1a1a1a" stroke-width="0.75"/><line x1="153.0" y1="183.0" x2="156.0" y2="243.0" stroke="#1a1a1a" stroke-width="0.75"/><line x1="157.0" y1="174.0" x2="170.0" y2="236.0" stroke="#1a1a1a" stroke-width="0.75"/><line x1="160.0" y1="166.0" x2="190.0" y2="224.0" stroke="#1a1a1a" stroke-width="0.75"/><line x1="158.0" y1="171.0" x2="181.0" y2="238.0" stroke="#1a1a1a" stroke-width="0.75"/><line x1="156.0" y1="177.0" x2="164.0" y2="246.0" stroke="#1a1a1a" stroke-width="0.75"/><line x1="154.0" y1="181.0" x2="152.0" y2="236.0" stroke="#1a1a1a" stroke-width="0.75"/><line x1="159.0" y1="169.0" x2="186.0" y2="231.0" stroke="#1a1a1a" stroke-width="0.75"/><line x1="157.0" y1="173.0" x2="174.0" y2="244.0" stroke="#1a1a1a" stroke-width="0.75"/><line x1="162.0" y1="158.0" x2="229.8" y2="182.1" stroke="#1a1a1a" stroke-width="0.8"/><line x1="171.8" y1="170.5" x2="213.8" y2="186.6" stroke="#1a1a1a" stroke-width="0.8"/><line x1="171.8" y1="170.5" x2="220.0" y2="225.9" stroke="#1a1a1a" stroke-width="0.8"/><line x1="171.8" y1="170.5" x2="208.4" y2="231.2" stroke="#1a1a1a" stroke-width="0.8"/><line x1="208.4" y1="231.2" x2="213.8" y2="235.7" stroke="#1a1a1a" stroke-width="0.8"/><line x1="208.4" y1="231.2" x2="208.4" y2="242.9" stroke="#1a1a1a" stroke-width="0.8"/><line x1="210.0" y1="233.5" x2="214.6" y2="241.0" stroke="#1a1a1a" stroke-width="0.8"/><circle cx="125.2" cy="34.4" r="19" fill="#fff" stroke="#d6d6d6" stroke-width="0.8"/><g clip-path="url(#cDG)"><path d="M120,37 L131,37 L130,48.5 Q125.5,50.5 121,48.5 Z" fill="#eef3e2"/><path d="M124,38 L126.5,38 L126,48 L124.5,48 Z" fill="#d2e4bc"/><ellipse cx="113.5" cy="31" rx="8" ry="6.5" transform="rotate(20 113.5 31)" fill="#4e9e3c"/><ellipse cx="129.5" cy="24.5" rx="7" ry="5.8" transform="rotate(-35 129.5 24.5)" fill="#3f8e32"/><ellipse cx="138.5" cy="35.5" rx="5.5" ry="6.5" transform="rotate(10 138.5 35.5)" fill="#4a9a38"/><ellipse cx="124" cy="33" rx="8" ry="4.5" transform="rotate(10 124 33)" fill="#5fae48"/><ellipse cx="133" cy="33" rx="5" ry="3.5" transform="rotate(-10 133 33)" fill="#3a8a2e"/><ellipse cx="117" cy="36" rx="4" ry="3" transform="rotate(30 117 36)" fill="#6ab852"/></g><circle cx="53.6" cy="72.1" r="20" fill="#fff" stroke="#d6d6d6" stroke-width="0.8"/><g clip-path="url(#cBC)"><path d="M35.5,62 Q40,54 50,53 Q62,52 70,60 L73,66 L66,72 L60,80 L57,75 L49,80 L44,77 L38,70 Z" fill="#5c9c4a"/><path d="M35.5,62 Q40,54 50,53 L52,62 L47,76 L44,77 L38,70 Z" fill="#6cab5a"/><path d="M56,54 Q64,55 70,60 L64,66 L57,62 Z" fill="#4e8e40"/><path d="M60,68 L68,62 L73.5,64 L72,70 L64,76 L60,81 L57,77 Z" fill="#2e6a2a"/><path d="M47,73 L45.5,87 Q50,92 57,90 L58.5,73 Z" fill="#f3f7ec"/><path d="M51,74 L50.5,88 L53.5,88 L54,74 Z" fill="#d4e8c0"/><path d="M54,74 L56.5,74 L56,84 Z" fill="#3a7a30" opacity="0.7"/></g><circle cx="195.2" cy="33" r="19.4" fill="url(#gNar)"/><g clip-path="url(#cNar)"><ellipse cx="196.4" cy="50.5" rx="3.2" ry="1.9" transform="rotate(176 196.4 50.5)" fill="#4a9a52" opacity="0.9"/><circle cx="194.0" cy="48.9" r="1.1" fill="#23502a" opacity="0.7"/><ellipse cx="190.6" cy="49.9" rx="3.2" ry="1.9" transform="rotate(195 190.6 49.9)" fill="#5aa862" opacity="0.9"/><circle cx="188.8" cy="47.6" r="1.1" fill="#23502a" opacity="0.7"/><ellipse cx="186.6" cy="48.2" rx="3.2" ry="1.9" transform="rotate(209 186.6 48.2)" fill="#6cb873" opacity="0.9"/><circle cx="185.5" cy="45.6" r="1.1" fill="#23502a" opacity="0.7"/><ellipse cx="182.7" cy="45.2" rx="3.2" ry="1.9" transform="rotate(226 182.7 45.2)" fill="#5aa862" opacity="0.9"/><circle cx="182.4" cy="42.4" r="1.1" fill="#23502a" opacity="0.7"/><ellipse cx="180.2" cy="42.0" rx="3.2" ry="1.9" transform="rotate(239 180.2 42.0)" fill="#8ccc8a" opacity="0.9"/><circle cx="180.5" cy="39.1" r="1.1" fill="#23502a" opacity="0.7"/><ellipse cx="178.3" cy="37.5" rx="3.2" ry="1.9" transform="rotate(255 178.3 37.5)" fill="#5aa862" opacity="0.9"/><circle cx="179.4" cy="34.9" r="1.1" fill="#23502a" opacity="0.7"/><ellipse cx="177.7" cy="31.7" rx="3.2" ry="1.9" transform="rotate(274 177.7 31.7)" fill="#3f8a48" opacity="0.9"/><circle cx="179.7" cy="29.6" r="1.1" fill="#23502a" opacity="0.7"/><ellipse cx="178.8" cy="27.0" rx="3.2" ry="1.9" transform="rotate(290 178.8 27.0)" fill="#8ccc8a" opacity="0.9"/><circle cx="181.2" cy="25.5" r="1.1" fill="#23502a" opacity="0.7"/><ellipse cx="180.8" cy="23.1" rx="3.2" ry="1.9" transform="rotate(304 180.8 23.1)" fill="#8ccc8a" opacity="0.9"/><circle cx="183.5" cy="22.2" r="1.1" fill="#23502a" opacity="0.7"/><ellipse cx="185.4" cy="18.5" rx="3.2" ry="1.9" transform="rotate(326 185.4 18.5)" fill="#3f8a48" opacity="0.9"/><circle cx="188.2" cy="18.7" r="1.1" fill="#23502a" opacity="0.7"/><ellipse cx="188.8" cy="16.7" rx="3.2" ry="1.9" transform="rotate(338 188.8 16.7)" fill="#6cb873" opacity="0.9"/><circle cx="191.5" cy="17.5" r="1.1" fill="#23502a" opacity="0.7"/><ellipse cx="194.3" cy="15.5" rx="3.2" ry="1.9" transform="rotate(357 194.3 15.5)" fill="#6cb873" opacity="0.9"/><circle cx="196.6" cy="17.2" r="1.1" fill="#23502a" opacity="0.7"/><ellipse cx="198.0" cy="15.7" rx="3.2" ry="1.9" transform="rotate(369 198.0 15.7)" fill="#3f8a48" opacity="0.9"/><circle cx="200.0" cy="17.8" r="1.1" fill="#23502a" opacity="0.7"/><ellipse cx="202.5" cy="17.1" rx="3.2" ry="1.9" transform="rotate(385 202.5 17.1)" fill="#6cb873" opacity="0.9"/><circle cx="203.8" cy="19.7" r="1.1" fill="#23502a" opacity="0.7"/><ellipse cx="208.1" cy="21.1" rx="3.2" ry="1.9" transform="rotate(407 208.1 21.1)" fill="#4a9a52" opacity="0.9"/><circle cx="208.3" cy="24.0" r="1.1" fill="#23502a" opacity="0.7"/><ellipse cx="210.5" cy="24.5" rx="3.2" ry="1.9" transform="rotate(421 210.5 24.5)" fill="#5aa862" opacity="0.9"/><circle cx="210.1" cy="27.3" r="1.1" fill="#23502a" opacity="0.7"/><ellipse cx="212.4" cy="29.7" rx="3.2" ry="1.9" transform="rotate(439 212.4 29.7)" fill="#5aa862" opacity="0.9"/><circle cx="211.1" cy="32.3" r="1.1" fill="#23502a" opacity="0.7"/><ellipse cx="212.7" cy="33.9" rx="3.2" ry="1.9" transform="rotate(453 212.7 33.9)" fill="#3f8a48" opacity="0.9"/><circle cx="210.8" cy="36.1" r="1.1" fill="#23502a" opacity="0.7"/><ellipse cx="211.7" cy="38.9" rx="3.2" ry="1.9" transform="rotate(470 211.7 38.9)" fill="#8ccc8a" opacity="0.9"/><circle cx="209.2" cy="40.5" r="1.1" fill="#23502a" opacity="0.7"/><ellipse cx="208.7" cy="44.2" rx="3.2" ry="1.9" transform="rotate(490 208.7 44.2)" fill="#6cb873" opacity="0.9"/><circle cx="205.9" cy="44.8" r="1.1" fill="#23502a" opacity="0.7"/><ellipse cx="206.6" cy="46.3" rx="3.2" ry="1.9" transform="rotate(499 206.6 46.3)" fill="#5aa862" opacity="0.9"/><circle cx="203.8" cy="46.4" r="1.1" fill="#23502a" opacity="0.7"/><ellipse cx="202.0" cy="49.1" rx="3.2" ry="1.9" transform="rotate(517 202.0 49.1)" fill="#5aa862" opacity="0.9"/><circle cx="199.3" cy="48.4" r="1.1" fill="#23502a" opacity="0.7"/><ellipse cx="198.5" cy="18.9" rx="2.8" ry="1.7" transform="rotate(373 198.5 18.9)" fill="#5aa862" opacity="0.9"/><circle cx="200.1" cy="21.1" r="1.0" fill="#23502a" opacity="0.7"/><ellipse cx="202.1" cy="20.3" rx="2.8" ry="1.7" transform="rotate(388 202.1 20.3)" fill="#5aa862" opacity="0.9"/><circle cx="203.1" cy="22.8" r="1.0" fill="#23502a" opacity="0.7"/><ellipse cx="205.8" cy="23.1" rx="2.8" ry="1.7" transform="rotate(407 205.8 23.1)" fill="#3f8a48" opacity="0.9"/><circle cx="205.9" cy="25.8" r="1.0" fill="#23502a" opacity="0.7"/><ellipse cx="208.4" cy="26.9" rx="2.8" ry="1.7" transform="rotate(425 208.4 26.9)" fill="#3f8a48" opacity="0.9"/><circle cx="207.6" cy="29.5" r="1.0" fill="#23502a" opacity="0.7"/><ellipse cx="209.5" cy="30.6" rx="2.8" ry="1.7" transform="rotate(440 209.5 30.6)" fill="#4a9a52" opacity="0.9"/><circle cx="208.1" cy="32.8" r="1.0" fill="#23502a" opacity="0.7"/><ellipse cx="209.4" cy="36.0" rx="2.8" ry="1.7" transform="rotate(462 209.4 36.0)" fill="#6cb873" opacity="0.9"/><circle cx="207.3" cy="37.6" r="1.0" fill="#23502a" opacity="0.7"/><ellipse cx="207.6" cy="40.5" rx="2.8" ry="1.7" transform="rotate(481 207.6 40.5)" fill="#3f8a48" opacity="0.9"/><circle cx="205.0" cy="41.3" r="1.0" fill="#23502a" opacity="0.7"/><ellipse cx="204.9" cy="43.7" rx="2.8" ry="1.7" transform="rotate(498 204.9 43.7)" fill="#8ccc8a" opacity="0.9"/><circle cx="202.3" cy="43.8" r="1.0" fill="#23502a" opacity="0.7"/><ellipse cx="201.1" cy="46.2" rx="2.8" ry="1.7" transform="rotate(516 201.1 46.2)" fill="#4a9a52" opacity="0.9"/><circle cx="198.5" cy="45.5" r="1.0" fill="#23502a" opacity="0.7"/><ellipse cx="196.2" cy="47.5" rx="2.8" ry="1.7" transform="rotate(536 196.2 47.5)" fill="#3f8a48" opacity="0.9"/><circle cx="194.0" cy="45.8" r="1.0" fill="#23502a" opacity="0.7"/><ellipse cx="192.4" cy="47.2" rx="2.8" ry="1.7" transform="rotate(551 192.4 47.2)" fill="#8ccc8a" opacity="0.9"/><circle cx="190.8" cy="45.1" r="1.0" fill="#23502a" opacity="0.7"/><ellipse cx="188.1" cy="45.6" rx="2.8" ry="1.7" transform="rotate(569 188.1 45.6)" fill="#3f8a48" opacity="0.9"/><circle cx="187.2" cy="43.1" r="1.0" fill="#23502a" opacity="0.7"/><ellipse cx="185.0" cy="43.3" rx="2.8" ry="1.7" transform="rotate(585 185.0 43.3)" fill="#6cb873" opacity="0.9"/><circle cx="184.8" cy="40.7" r="1.0" fill="#23502a" opacity="0.7"/><ellipse cx="182.5" cy="40.0" rx="2.8" ry="1.7" transform="rotate(601 182.5 40.0)" fill="#5aa862" opacity="0.9"/><circle cx="183.1" cy="37.4" r="1.0" fill="#23502a" opacity="0.7"/><ellipse cx="181.0" cy="35.7" rx="2.8" ry="1.7" transform="rotate(619 181.0 35.7)" fill="#6cb873" opacity="0.9"/><circle cx="182.3" cy="33.4" r="1.0" fill="#23502a" opacity="0.7"/><ellipse cx="180.9" cy="30.6" rx="2.8" ry="1.7" transform="rotate(640 180.9 30.6)" fill="#8ccc8a" opacity="0.9"/><circle cx="183.0" cy="28.9" r="1.0" fill="#23502a" opacity="0.7"/><ellipse cx="182.0" cy="27.0" rx="2.8" ry="1.7" transform="rotate(655 182.0 27.0)" fill="#5aa862" opacity="0.9"/><circle cx="184.5" cy="25.9" r="1.0" fill="#23502a" opacity="0.7"/><ellipse cx="185.6" cy="22.1" rx="2.8" ry="1.7" transform="rotate(679 185.6 22.1)" fill="#6cb873" opacity="0.9"/><circle cx="188.3" cy="22.1" r="1.0" fill="#23502a" opacity="0.7"/><ellipse cx="188.1" cy="20.3" rx="2.8" ry="1.7" transform="rotate(691 188.1 20.3)" fill="#3f8a48" opacity="0.9"/><circle cx="190.7" cy="20.9" r="1.0" fill="#23502a" opacity="0.7"/><ellipse cx="193.8" cy="18.6" rx="2.8" ry="1.7" transform="rotate(715 193.8 18.6)" fill="#5aa862" opacity="0.9"/><circle cx="196.0" cy="20.1" r="1.0" fill="#23502a" opacity="0.7"/><ellipse cx="192.7" cy="21.8" rx="2.4" ry="1.5" transform="rotate(347 192.7 21.8)" fill="#4a9a52" opacity="0.9"/><circle cx="194.8" cy="23.1" r="0.9" fill="#23502a" opacity="0.7"/><ellipse cx="197.2" cy="21.7" rx="2.4" ry="1.5" transform="rotate(370 197.2 21.7)" fill="#6cb873" opacity="0.9"/><circle cx="198.7" cy="23.7" r="0.9" fill="#23502a" opacity="0.7"/><ellipse cx="200.9" cy="23.0" rx="2.4" ry="1.5" transform="rotate(389 200.9 23.0)" fill="#6cb873" opacity="0.9"/><circle cx="201.6" cy="25.4" r="0.9" fill="#23502a" opacity="0.7"/><ellipse cx="203.9" cy="25.5" rx="2.4" ry="1.5" transform="rotate(409 203.9 25.5)" fill="#3f8a48" opacity="0.9"/><circle cx="203.7" cy="28.0" r="0.9" fill="#23502a" opacity="0.7"/><ellipse cx="206.0" cy="29.0" rx="2.4" ry="1.5" transform="rotate(430 206.0 29.0)" fill="#8ccc8a" opacity="0.9"/><circle cx="205.0" cy="31.3" r="0.9" fill="#23502a" opacity="0.7"/><ellipse cx="206.6" cy="34.7" rx="2.4" ry="1.5" transform="rotate(458 206.6 34.7)" fill="#4a9a52" opacity="0.9"/><circle cx="204.6" cy="36.2" r="0.9" fill="#23502a" opacity="0.7"/><ellipse cx="205.5" cy="38.1" rx="2.4" ry="1.5" transform="rotate(477 205.5 38.1)" fill="#8ccc8a" opacity="0.9"/><circle cx="203.1" cy="39.0" r="0.9" fill="#23502a" opacity="0.7"/><ellipse cx="202.8" cy="41.6" rx="2.4" ry="1.5" transform="rotate(498 202.8 41.6)" fill="#4a9a52" opacity="0.9"/><circle cx="200.3" cy="41.5" r="0.9" fill="#23502a" opacity="0.7"/><ellipse cx="199.8" cy="43.6" rx="2.4" ry="1.5" transform="rotate(517 199.8 43.6)" fill="#8ccc8a" opacity="0.9"/><circle cx="197.4" cy="42.7" r="0.9" fill="#23502a" opacity="0.7"/><ellipse cx="194.7" cy="44.5" rx="2.4" ry="1.5" transform="rotate(542 194.7 44.5)" fill="#5aa862" opacity="0.9"/><circle cx="193.0" cy="42.6" r="0.9" fill="#23502a" opacity="0.7"/><ellipse cx="191.4" cy="43.8" rx="2.4" ry="1.5" transform="rotate(559 191.4 43.8)" fill="#3f8a48" opacity="0.9"/><circle cx="190.2" cy="41.6" r="0.9" fill="#23502a" opacity="0.7"/><ellipse cx="187.7" cy="41.7" rx="2.4" ry="1.5" transform="rotate(581 187.7 41.7)" fill="#3f8a48" opacity="0.9"/><circle cx="187.5" cy="39.2" r="0.9" fill="#23502a" opacity="0.7"/><ellipse cx="184.8" cy="38.0" rx="2.4" ry="1.5" transform="rotate(604 184.8 38.0)" fill="#6cb873" opacity="0.9"/><circle cx="185.6" cy="35.6" r="0.9" fill="#23502a" opacity="0.7"/><ellipse cx="183.7" cy="34.0" rx="2.4" ry="1.5" transform="rotate(625 183.7 34.0)" fill="#3f8a48" opacity="0.9"/><circle cx="185.3" cy="32.1" r="0.9" fill="#23502a" opacity="0.7"/><ellipse cx="184.0" cy="30.4" rx="2.4" ry="1.5" transform="rotate(643 184.0 30.4)" fill="#8ccc8a" opacity="0.9"/><circle cx="186.1" cy="29.0" r="0.9" fill="#23502a" opacity="0.7"/><ellipse cx="186.4" cy="25.6" rx="2.4" ry="1.5" transform="rotate(670 186.4 25.6)" fill="#5aa862" opacity="0.9"/><circle cx="188.9" cy="25.4" r="0.9" fill="#23502a" opacity="0.7"/><ellipse cx="189.7" cy="22.9" rx="2.4" ry="1.5" transform="rotate(691 189.7 22.9)" fill="#3f8a48" opacity="0.9"/><circle cx="192.1" cy="23.6" r="0.9" fill="#23502a" opacity="0.7"/><ellipse cx="192.6" cy="41.1" rx="2.0" ry="1.3" transform="rotate(198 192.6 41.1)" fill="#5aa862" opacity="0.9"/><circle cx="191.6" cy="38.9" r="0.9" fill="#23502a" opacity="0.7"/><ellipse cx="188.6" cy="38.4" rx="2.0" ry="1.3" transform="rotate(231 188.6 38.4)" fill="#4a9a52" opacity="0.9"/><circle cx="189.0" cy="36.0" r="0.9" fill="#23502a" opacity="0.7"/><ellipse cx="187.2" cy="35.8" rx="2.0" ry="1.3" transform="rotate(251 187.2 35.8)" fill="#3f8a48" opacity="0.9"/><circle cx="188.3" cy="33.7" r="0.9" fill="#23502a" opacity="0.7"/><ellipse cx="186.9" cy="31.1" rx="2.0" ry="1.3" transform="rotate(283 186.9 31.1)" fill="#8ccc8a" opacity="0.9"/><circle cx="189.0" cy="29.9" r="0.9" fill="#23502a" opacity="0.7"/><ellipse cx="188.4" cy="28.0" rx="2.0" ry="1.3" transform="rotate(306 188.4 28.0)" fill="#4a9a52" opacity="0.9"/><circle cx="190.8" cy="27.7" r="0.9" fill="#23502a" opacity="0.7"/><ellipse cx="191.9" cy="25.2" rx="2.0" ry="1.3" transform="rotate(337 191.9 25.2)" fill="#4a9a52" opacity="0.9"/><circle cx="194.1" cy="26.2" r="0.9" fill="#23502a" opacity="0.7"/><ellipse cx="196.1" cy="24.5" rx="2.0" ry="1.3" transform="rotate(366 196.1 24.5)" fill="#4a9a52" opacity="0.9"/><circle cx="197.6" cy="26.5" r="0.9" fill="#23502a" opacity="0.7"/><ellipse cx="200.1" cy="26.0" rx="2.0" ry="1.3" transform="rotate(395 200.1 26.0)" fill="#6cb873" opacity="0.9"/><circle cx="200.4" cy="28.4" r="0.9" fill="#23502a" opacity="0.7"/><ellipse cx="202.7" cy="28.9" rx="2.0" ry="1.3" transform="rotate(421 202.7 28.9)" fill="#6cb873" opacity="0.9"/><circle cx="201.9" cy="31.2" r="0.9" fill="#23502a" opacity="0.7"/><ellipse cx="203.7" cy="33.3" rx="2.0" ry="1.3" transform="rotate(452 203.7 33.3)" fill="#4a9a52" opacity="0.9"/><circle cx="201.8" cy="34.9" r="0.9" fill="#23502a" opacity="0.7"/><ellipse cx="202.8" cy="36.9" rx="2.0" ry="1.3" transform="rotate(477 202.8 36.9)" fill="#4a9a52" opacity="0.9"/><circle cx="200.4" cy="37.5" r="0.9" fill="#23502a" opacity="0.7"/><ellipse cx="200.1" cy="39.9" rx="2.0" ry="1.3" transform="rotate(504 200.1 39.9)" fill="#4a9a52" opacity="0.9"/><circle cx="197.8" cy="39.4" r="0.9" fill="#23502a" opacity="0.7"/><ellipse cx="196.9" cy="41.3" rx="2.0" ry="1.3" transform="rotate(529 196.9 41.3)" fill="#8ccc8a" opacity="0.9"/><circle cx="194.9" cy="39.9" r="0.9" fill="#23502a" opacity="0.7"/><ellipse cx="193.2" cy="38.1" rx="1.6" ry="1.1" transform="rotate(202 193.2 38.1)" fill="#3f8a48" opacity="0.9"/><circle cx="192.6" cy="35.9" r="0.8" fill="#23502a" opacity="0.7"/><ellipse cx="190.4" cy="35.7" rx="1.6" ry="1.1" transform="rotate(241 190.4 35.7)" fill="#5aa862" opacity="0.9"/><circle cx="191.4" cy="33.6" r="0.8" fill="#23502a" opacity="0.7"/><ellipse cx="189.8" cy="32.1" rx="1.6" ry="1.1" transform="rotate(279 189.8 32.1)" fill="#6cb873" opacity="0.9"/><circle cx="191.8" cy="31.1" r="0.8" fill="#23502a" opacity="0.7"/><ellipse cx="192.2" cy="28.4" rx="1.6" ry="1.1" transform="rotate(326 192.2 28.4)" fill="#8ccc8a" opacity="0.9"/><circle cx="194.3" cy="29.2" r="0.8" fill="#23502a" opacity="0.7"/><ellipse cx="195.3" cy="27.5" rx="1.6" ry="1.1" transform="rotate(361 195.3 27.5)" fill="#8ccc8a" opacity="0.9"/><circle cx="196.6" cy="29.4" r="0.8" fill="#23502a" opacity="0.7"/><ellipse cx="199.0" cy="29.0" rx="1.6" ry="1.1" transform="rotate(404 199.0 29.0)" fill="#4a9a52" opacity="0.9"/><circle cx="198.7" cy="31.3" r="0.8" fill="#23502a" opacity="0.7"/><ellipse cx="200.6" cy="32.1" rx="1.6" ry="1.1" transform="rotate(440 200.6 32.1)" fill="#8ccc8a" opacity="0.9"/><circle cx="199.0" cy="33.7" r="0.8" fill="#23502a" opacity="0.7"/><ellipse cx="199.8" cy="36.1" rx="1.6" ry="1.1" transform="rotate(484 199.8 36.1)" fill="#6cb873" opacity="0.9"/><circle cx="197.5" cy="36.2" r="0.8" fill="#23502a" opacity="0.7"/><ellipse cx="197.1" cy="38.1" rx="1.6" ry="1.1" transform="rotate(519 197.1 38.1)" fill="#4a9a52" opacity="0.9"/><circle cx="195.2" cy="36.9" r="0.8" fill="#23502a" opacity="0.7"/><ellipse cx="198.1" cy="32.1" rx="1.3" ry="0.9" transform="rotate(433 198.1 32.1)" fill="#8ccc8a" opacity="0.9"/><circle cx="196.6" cy="33.3" r="0.7" fill="#23502a" opacity="0.7"/><ellipse cx="197.5" cy="35.0" rx="1.3" ry="0.9" transform="rotate(491 197.5 35.0)" fill="#8ccc8a" opacity="0.9"/><circle cx="195.7" cy="34.3" r="0.7" fill="#23502a" opacity="0.7"/><ellipse cx="194.8" cy="36.0" rx="1.3" ry="0.9" transform="rotate(548 194.8 36.0)" fill="#8ccc8a" opacity="0.9"/><circle cx="194.3" cy="34.1" r="0.7" fill="#23502a" opacity="0.7"/><ellipse cx="192.3" cy="33.8" rx="1.3" ry="0.9" transform="rotate(615 192.3 33.8)" fill="#5aa862" opacity="0.9"/><circle cx="193.8" cy="32.6" r="0.7" fill="#23502a" opacity="0.7"/><ellipse cx="192.9" cy="31.1" rx="1.3" ry="0.9" transform="rotate(670 192.9 31.1)" fill="#6cb873" opacity="0.9"/><circle cx="194.7" cy="31.7" r="0.7" fill="#23502a" opacity="0.7"/><ellipse cx="195.6" cy="30.0" rx="1.3" ry="0.9" transform="rotate(728 195.6 30.0)" fill="#8ccc8a" opacity="0.9"/><circle cx="196.1" cy="31.9" r="0.7" fill="#23502a" opacity="0.7"/><circle cx="195.8" cy="33.6" r="3" fill="#3aa02a" opacity="0.8"/><path d="M176,32 Q177,18 190,13.5 L184,20 Q178,25 178,33 Z" fill="#1e2e22" opacity="0.75"/></g><circle cx="276.7" cy="95.5" r="18.5" fill="#fff" stroke="#d6d6d6" stroke-width="0.8"/><g clip-path="url(#cPC)"><path d="M259.5,88 L263.5,83 L273,92.5 L272.5,100 L268,99 Z" fill="#23922b"/><path d="M281.5,99 L285.5,89.5 L291,85.5 L295,87.5 L293,94.5 L285,101.5 Z" fill="#23922b"/><path d="M270,100 L270.5,87 Q271,82.2 275.5,82.2 Q280,82.2 280.5,87 L281.5,100 Z" fill="#2c9c32"/><path d="M276,85 Q279,86 279.5,95 L277,99 Z" fill="#1f8628" opacity="0.7"/><path d="M270.3,99 L282.3,99 Q282.2,104 283.2,108 Q283.2,112.8 277,112.8 Q270,112.8 270,108 Q271,104 270.3,99 Z" fill="#6cbf5c"/><path d="M274.5,101 Q276,106 275.5,111 L278,111 Q278.5,106 277,101 Z" fill="#9ad58a" opacity="0.8"/></g><path d="M13,126 L28,126 L26,140 L15,140 Z" fill="#4f9a40"/><path d="M17,127 L20,127 L19.5,139.5 L17.5,139.5 Z" fill="#8cc47a"/><path d="M22.5,127 L25,127 L23.5,139.5 L22,139.5 Z" fill="#78b866"/><ellipse cx="11" cy="120" rx="5.5" ry="4" transform="rotate(35 11 120)" fill="#3b7d33"/><ellipse cx="17" cy="114" rx="5" ry="4" transform="rotate(-20 17 114)" fill="#4a8c3c"/><ellipse cx="23" cy="112" rx="5" ry="4.5" transform="rotate(10 23 112)" fill="#3f8236"/><ellipse cx="30" cy="116" rx="6" ry="4" transform="rotate(-30 30 116)" fill="#356f2c"/><ellipse cx="33" cy="121" rx="4.5" ry="3.5" transform="rotate(-40 33 121)" fill="#2f6a28"/><ellipse cx="19" cy="121" rx="6" ry="4.5" transform="rotate(0 19 121)" fill="#5b9c4a"/><ellipse cx="27" cy="123" rx="5" ry="4" transform="rotate(20 27 123)" fill="#4a8e3d"/><ellipse cx="13" cy="125" rx="4" ry="3" transform="rotate(30 13 125)" fill="#3a7a30"/><circle cx="18" cy="119" r="0.9" fill="#d0c63a"/><circle cx="25.5" cy="119.5" r="0.8" fill="#d0c63a"/><circle cx="38.9" cy="243" r="19.5" fill="#fff" stroke="#d6d6d6" stroke-width="0.8"/><g clip-path="url(#cRaf)"><ellipse cx="29" cy="230" rx="5" ry="3.2" transform="rotate(-25 29 230)" fill="#5a9a4c"/><ellipse cx="35" cy="227" rx="4.5" ry="3.5" transform="rotate(-10 35 227)" fill="#4c8e42"/><ellipse cx="42" cy="228" rx="5" ry="3.5" transform="rotate(15 42 228)" fill="#5e9e50"/><ellipse cx="45" cy="234" rx="4" ry="3" transform="rotate(40 45 234)" fill="#4a8a40"/><ellipse cx="27" cy="235" rx="3.5" ry="2.5" transform="rotate(20 27 235)" fill="#6aa85a"/><ellipse cx="33" cy="233" rx="4" ry="3" transform="rotate(0 33 233)" fill="#3f7f38"/><ellipse cx="40" cy="236" rx="4" ry="3" transform="rotate(10 40 236)" fill="#4e9044"/><ellipse cx="44" cy="240" rx="3" ry="2.2" transform="rotate(50 44 240)" fill="#5a9a4c"/><path d="M32,236 L36,236 L36,252 L33.5,252 Z" fill="#7aa860"/><path d="M37,236 L41,236 L39.5,252 L37,252 Z" fill="#5f9648"/><ellipse cx="31" cy="242" rx="2.5" ry="4" transform="rotate(10 31 242)" fill="#4e9044"/><ellipse cx="41" cy="244" rx="2.2" ry="4" transform="rotate(-10 41 244)" fill="#4e9044"/><ellipse cx="37" cy="257" rx="6" ry="5" fill="#ecebdf"/><ellipse cx="36" cy="256" rx="3" ry="2.5" fill="#f7f6ee"/></g><circle cx="263.4" cy="255.7" r="19.2" fill="#8494a4"/><g clip-path="url(#cOle)"><path d="M243,253 L248,250 L251,244 L254,242 L258,243 L262,247 L266,250 L270,248 L273,245 L277,245 L281,248 L284,252 L284,276 L243,276 Z" fill="#dccf1c"/><circle cx="268.3" cy="268.5" r="1.3" fill="#eee020"/><circle cx="276.8" cy="266.3" r="0.7" fill="#f8ec30"/><circle cx="262.2" cy="273.6" r="0.7" fill="#b0a010"/><circle cx="250.1" cy="259.3" r="0.9" fill="#eee020"/><circle cx="265.2" cy="264.3" r="1.4" fill="#f2e41e"/><circle cx="259.9" cy="254.6" r="1.4" fill="#eee020"/><circle cx="250.2" cy="269.9" r="1.3" fill="#c8b810"/><circle cx="261.3" cy="253.3" r="0.7" fill="#eee020"/><circle cx="274.2" cy="274.0" r="1.5" fill="#c8b810"/><circle cx="255.3" cy="274.0" r="1.5" fill="#f8ec30"/><circle cx="268.4" cy="254.5" r="0.9" fill="#b0a010"/><circle cx="281.6" cy="259.6" r="1.0" fill="#f2e41e"/><circle cx="250.5" cy="253.6" r="1.0" fill="#f2e41e"/><circle cx="275.9" cy="264.7" r="1.3" fill="#f8ec30"/><circle cx="257.2" cy="257.7" r="1.0" fill="#eee020"/><circle cx="271.2" cy="254.6" r="1.3" fill="#8a8a18"/><circle cx="246.2" cy="274.4" r="1.6" fill="#f2e41e"/><circle cx="257.9" cy="260.1" r="1.4" fill="#f8ec30"/><circle cx="258.3" cy="264.5" r="1.1" fill="#f2e41e"/><circle cx="271.6" cy="265.6" r="0.8" fill="#c8b810"/><circle cx="253.6" cy="270.5" r="1.0" fill="#8a8a18"/><circle cx="257.8" cy="263.1" r="1.1" fill="#eee020"/><circle cx="267.0" cy="269.5" r="1.5" fill="#e4d418"/><circle cx="245.4" cy="273.6" r="0.9" fill="#f2e41e"/><circle cx="264.0" cy="259.1" r="1.0" fill="#c8b810"/><circle cx="280.0" cy="263.6" r="1.3" fill="#e4d418"/><circle cx="255.9" cy="270.0" r="0.8" fill="#b0a010"/><circle cx="270.9" cy="274.9" r="1.3" fill="#c8b810"/><circle cx="247.2" cy="265.0" r="0.7" fill="#8a8a18"/><circle cx="272.9" cy="258.6" r="1.1" fill="#e4d418"/><circle cx="260.4" cy="251.4" r="0.7" fill="#b0a010"/><circle cx="263.2" cy="271.0" r="1.6" fill="#c8b810"/><circle cx="266.0" cy="253.3" r="1.1" fill="#eee020"/><circle cx="250.6" cy="259.3" r="1.5" fill="#f2e41e"/><circle cx="255.5" cy="261.3" r="1.5" fill="#f8ec30"/><circle cx="282.1" cy="261.3" r="1.3" fill="#8a8a18"/><circle cx="256.4" cy="256.9" r="1.1" fill="#8a8a18"/><circle cx="249.7" cy="259.4" r="1.6" fill="#f8ec30"/><circle cx="268.5" cy="262.5" r="0.9" fill="#e4d418"/><circle cx="263.2" cy="262.9" r="1.5" fill="#f8ec30"/><circle cx="258.1" cy="269.7" r="1.0" fill="#eee020"/><circle cx="266.9" cy="250.9" r="1.0" fill="#e4d418"/><circle cx="271.5" cy="257.0" r="0.9" fill="#8a8a18"/><circle cx="282.3" cy="267.9" r="1.3" fill="#e4d418"/><circle cx="266.6" cy="250.3" r="1.4" fill="#f8ec30"/><circle cx="256.7" cy="256.8" r="1.4" fill="#e4d418"/><circle cx="269.3" cy="269.9" r="0.9" fill="#e4d418"/><circle cx="257.5" cy="273.4" r="1.0" fill="#8a8a18"/><circle cx="276.9" cy="271.7" r="1.1" fill="#b0a010"/><circle cx="258.2" cy="258.4" r="1.2" fill="#c8b810"/><circle cx="250.5" cy="270.9" r="1.1" fill="#eee020"/><circle cx="271.0" cy="268.0" r="1.1" fill="#b0a010"/><circle cx="268.1" cy="273.4" r="1.3" fill="#f8ec30"/><circle cx="260.4" cy="265.6" r="1.5" fill="#eee020"/><circle cx="254.6" cy="274.9" r="0.8" fill="#c8b810"/><circle cx="261.2" cy="266.3" r="1.4" fill="#c8b810"/><circle cx="251.0" cy="268.0" r="1.6" fill="#8a8a18"/><circle cx="250.5" cy="272.3" r="1.0" fill="#f2e41e"/><circle cx="251.1" cy="254.8" r="1.1" fill="#f2e41e"/><circle cx="257.7" cy="266.6" r="1.2" fill="#f2e41e"/><circle cx="253.3" cy="272.6" r="1.0" fill="#f2e41e"/><circle cx="281.1" cy="271.4" r="0.8" fill="#eee020"/><circle cx="276.4" cy="259.3" r="1.2" fill="#f2e41e"/><circle cx="255.8" cy="257.4" r="1.0" fill="#f8ec30"/><circle cx="266.7" cy="274.0" r="0.8" fill="#eee020"/><circle cx="260.0" cy="264.1" r="1.0" fill="#f8ec30"/><circle cx="249.5" cy="264.9" r="1.1" fill="#f8ec30"/><circle cx="251.8" cy="253.3" r="1.0" fill="#f2e41e"/><circle cx="278.8" cy="250.0" r="1.0" fill="#f2e41e"/><circle cx="279.7" cy="263.5" r="1.3" fill="#e4d418"/><circle cx="278.8" cy="259.4" r="1.6" fill="#8a8a18"/><circle cx="263.2" cy="262.0" r="1.0" fill="#b0a010"/><circle cx="281.5" cy="272.8" r="1.2" fill="#f8ec30"/><circle cx="272.9" cy="257.5" r="1.1" fill="#e4d418"/><circle cx="256.4" cy="274.6" r="1.5" fill="#8a8a18"/><circle cx="249.6" cy="250.6" r="1.3" fill="#b0a010"/><circle cx="261.3" cy="257.3" r="0.8" fill="#eee020"/><circle cx="259.3" cy="262.0" r="0.9" fill="#f8ec30"/><circle cx="280.5" cy="269.5" r="1.1" fill="#c8b810"/><circle cx="276.9" cy="268.0" r="1.0" fill="#e4d418"/><circle cx="267.7" cy="261.9" r="1.5" fill="#b0a010"/><circle cx="278.3" cy="272.4" r="1.4" fill="#f2e41e"/><circle cx="255.7" cy="263.3" r="1.3" fill="#e4d418"/><circle cx="272.5" cy="250.7" r="1.0" fill="#e4d418"/><circle cx="273.1" cy="264.8" r="0.7" fill="#f2e41e"/><circle cx="265.6" cy="267.1" r="1.5" fill="#f2e41e"/><circle cx="265.3" cy="250.4" r="1.4" fill="#eee020"/><circle cx="267.2" cy="267.2" r="1.3" fill="#b0a010"/><circle cx="277.5" cy="271.0" r="1.1" fill="#8a8a18"/><circle cx="277.2" cy="254.9" r="1.1" fill="#e4d418"/><circle cx="273.6" cy="257.6" r="1.3" fill="#f2e41e"/><circle cx="260.9" cy="257.2" r="1.1" fill="#eee020"/><circle cx="256.1" cy="254.1" r="1.2" fill="#b0a010"/><circle cx="263.4" cy="258.3" r="1.1" fill="#c8b810"/><circle cx="265.1" cy="251.2" r="0.9" fill="#b0a010"/><circle cx="276.0" cy="269.8" r="1.5" fill="#b0a010"/><circle cx="257.0" cy="260.7" r="1.6" fill="#f2e41e"/><circle cx="271.3" cy="251.2" r="0.8" fill="#eee020"/><circle cx="268.0" cy="270.6" r="1.3" fill="#f2e41e"/><circle cx="249.3" cy="257.3" r="0.8" fill="#8a8a18"/><circle cx="267.8" cy="260.3" r="0.8" fill="#c8b810"/><circle cx="252.3" cy="263.9" r="1.0" fill="#b0a010"/><circle cx="246.8" cy="251.4" r="0.8" fill="#f8ec30"/><circle cx="259.5" cy="265.6" r="1.1" fill="#f2e41e"/><circle cx="256.3" cy="265.0" r="1.0" fill="#8a8a18"/><circle cx="269.6" cy="272.9" r="1.3" fill="#c8b810"/><circle cx="249.9" cy="265.8" r="1.0" fill="#f8ec30"/><circle cx="280.7" cy="263.7" r="0.9" fill="#c8b810"/><circle cx="265.5" cy="256.4" r="1.0" fill="#eee020"/><circle cx="282.0" cy="270.2" r="1.0" fill="#eee020"/></g><text x="1" y="15" text-anchor="start" fill="#111" style="font-size:21px;font-family:&quot;Liberation Serif&quot;,serif;">a</text><text x="85.2" y="57.8" text-anchor="middle" fill="#111" style="font-size:16.5px;font-family:&quot;Liberation Serif&quot;,serif;" transform="rotate(-26 85.2 57.8)" dominant-baseline="central">D</text><text x="93.6" y="47.6" text-anchor="middle" fill="#111" style="font-size:16.5px;font-family:&quot;Liberation Serif&quot;,serif;" transform="rotate(-23 93.6 47.6)" dominant-baseline="central">G</text><text x="218.3" y="47.8" text-anchor="middle" fill="#111" style="font-size:17px;font-family:&quot;Liberation Serif&quot;,serif;font-style:italic;" transform="rotate(27 218.3 47.8)" dominant-baseline="central">N</text><text x="226.2" y="54.6" text-anchor="middle" fill="#111" style="font-size:17px;font-family:&quot;Liberation Serif&quot;,serif;font-style:italic;" transform="rotate(31 226.2 54.6)" dominant-baseline="central">a</text><text x="233.8" y="56.8" text-anchor="middle" fill="#111" style="font-size:17px;font-family:&quot;Liberation Serif&quot;,serif;font-style:italic;" transform="rotate(34.6 233.8 56.8)" dominant-baseline="central">r</text><text x="281.6" y="123.2" text-anchor="middle" fill="#111" style="font-size:17px;font-family:&quot;Liberation Serif&quot;,serif;" transform="rotate(71 281.6 123.2)" dominant-baseline="central">P</text><text x="284.4" y="133.7" text-anchor="middle" fill="#111" style="font-size:17px;font-family:&quot;Liberation Serif&quot;,serif;" transform="rotate(75.5 284.4 133.7)" dominant-baseline="central">C</text><text x="15.2" y="162" text-anchor="middle" fill="#111" style="font-size:17px;font-family:&quot;Liberation Serif&quot;,serif;font-style:italic;" transform="rotate(-90 15.2 162)" dominant-baseline="central">Par</text><text x="68.9" y="268.4" text-anchor="middle" fill="#111" style="font-size:17px;font-family:&quot;Liberation Serif&quot;,serif;font-style:italic;" transform="rotate(56 68.9 268.4)" dominant-baseline="central">Raf</text><text x="281.5" y="223.6" text-anchor="middle" fill="#111" style="font-size:17px;font-family:&quot;Liberation Serif&quot;,serif;font-style:italic;" transform="rotate(-62 281.5 223.6)" dominant-baseline="central">Ole</text><text x="37.7" y="193.3" fill="#c0661f" text-anchor="middle" dominant-baseline="central" style="font-size:12px;font-family:&quot;Liberation Sans&quot;,sans-serif" transform="rotate(72 37.7 193.3)">K=4</text><text x="47.8" y="191.5" fill="#555" text-anchor="middle" dominant-baseline="central" style="font-size:12px;font-family:&quot;Liberation Sans&quot;,sans-serif" transform="rotate(72 47.8 191.5)">K=5</text><text x="57.6" y="188.5" fill="#b85a22" text-anchor="middle" dominant-baseline="central" style="font-size:12px;font-family:&quot;Liberation Sans&quot;,sans-serif" transform="rotate(72 57.6 188.5)">K=6</text><text x="67.2" y="186" fill="#3794b3" text-anchor="middle" dominant-baseline="central" style="font-size:12px;font-family:&quot;Liberation Sans&quot;,sans-serif" transform="rotate(72 67.2 186)">K=7</text>
<text x="326" y="16" text-anchor="start" fill="#111" style="font-size:21px;font-family:&quot;Liberation Serif&quot;,serif;">b</text><rect x="467.5" y="11.8" width="56.8" height="101.5" fill="#b7dde8"/><polygon points="466.3,113 495.5,113 375.9,262.8 346.6,262.8" fill="#00b050"/><polygon points="492,113 524.3,113 577.3,188.2 540.8,188.2" fill="#b7dde8"/><polygon points="527.9,188.2 557.6,188.2 503.6,262.9 475,262.9" fill="#632523"/><polygon points="557.5,188.2 585,188.2 637.1,262.9 608,262.9" fill="#ff0000"/><line x1="377" y1="113" x2="613.5" y2="113" stroke="#3a3a3a" stroke-width="1.4" stroke-dasharray="5.5,3"/><line x1="376" y1="188.4" x2="613.5" y2="188.4" stroke="#3a3a3a" stroke-width="1.4" stroke-dasharray="5.5,3"/><line x1="558.5" y1="120" x2="558.5" y2="188" stroke="#c00000" stroke-width="1.1"/><path d="M555.5,123.5 L558.5,118 L561.5,123.5" fill="none" stroke="#c00000" stroke-width="1.1"/><line x1="608.4" y1="196" x2="608.4" y2="262" stroke="#c00000" stroke-width="1.1"/><path d="M605.4,199.5 L608.4,194 L611.4,199.5" fill="none" stroke="#c00000" stroke-width="1.1"/><text x="539.4" y="157.9" text-anchor="start" fill="#111" style="font-size:23.5px;font-family:&quot;Liberation Serif&quot;,serif;">T</text><text x="552.8" y="164" text-anchor="start" fill="#111" style="font-size:15.9px;font-family:&quot;Liberation Serif&quot;,serif;">split1</text><text x="559.5" y="149.5" text-anchor="start" fill="#111" style="font-size:13.8px;font-family:&quot;Liberation Serif&quot;,serif;">=1,220-2,038</text><text x="589.6" y="226.9" text-anchor="start" fill="#111" style="font-size:23.5px;font-family:&quot;Liberation Serif&quot;,serif;">T</text><text x="602.2" y="232.5" text-anchor="start" fill="#111" style="font-size:15.9px;font-family:&quot;Liberation Serif&quot;,serif;">split2</text><text x="608.4" y="219.3" text-anchor="start" fill="#111" style="font-size:13.8px;font-family:&quot;Liberation Serif&quot;,serif;">=1,838-3,050</text><text x="363" y="279.3" text-anchor="middle" fill="#111" style="font-size:16.5px;font-family:&quot;Liberation Serif&quot;,serif;font-style:italic;">PC</text><text x="488" y="279.3" text-anchor="middle" fill="#111" style="font-size:16.5px;font-family:&quot;Liberation Serif&quot;,serif;font-style:italic;">DG</text><text x="624" y="279.3" text-anchor="middle" fill="#111" style="font-size:16.5px;font-family:&quot;Liberation Serif&quot;,serif;font-style:italic;">Par</text>
<text x="0" y="318" text-anchor="start" fill="#111" style="font-size:21px;font-family:&quot;Liberation Serif&quot;,serif;">c</text><line x1="177.4" y1="319.3" x2="152" y2="461.9" stroke="#b6aae6" stroke-width="0.85"/><line x1="217" y1="403.6" x2="207.9" y2="475" stroke="#b6aae6" stroke-width="0.85"/><path d="M205.5,470.5 L207.9,475.5 L209.8,470.8" fill="none" stroke="#b6aae6" stroke-width="0.8"/><line x1="41" y1="508.3" x2="103" y2="452" stroke="#262626" stroke-width="1.1"/><line x1="41" y1="508.3" x2="94" y2="535" stroke="#262626" stroke-width="1.1"/><line x1="103" y1="452" x2="120.2" y2="342.6" stroke="#262626" stroke-width="1.1"/><line x1="103" y1="452" x2="232.7" y2="480.5" stroke="#262626" stroke-width="1.1"/><line x1="120.2" y1="342.6" x2="177.4" y2="319.3" stroke="#262626" stroke-width="1.1"/><line x1="120.2" y1="342.6" x2="184.6" y2="388.2" stroke="#262626" stroke-width="1.1"/><line x1="184.6" y1="388.2" x2="252" y2="418" stroke="#262626" stroke-width="1.1"/><line x1="184.6" y1="388.2" x2="211.4" y2="374.3" stroke="#777" stroke-width="0.8"/><line x1="152.6" y1="328.6" x2="208.5" y2="371.6" stroke="#fdb44b" stroke-width="1.6"/><path d="M205,372.6 L211.4,374.2 L208.4,368.3 Z" fill="#fdb44b"/><line x1="197.9" y1="380.7" x2="178.5" y2="322.5" stroke="#f26a2a" stroke-width="1.2"/><path d="M175.8,324.8 L177.4,319 L180.6,323.5" fill="none" stroke="#f26a2a" stroke-width="1.1"/><line x1="211.4" y1="374.3" x2="250.5" y2="416.5" stroke="#fbc9a4" stroke-width="1.3"/><path d="M246.8,415.8 L252,418 L250.5,412.5" fill="none" stroke="#fbc9a4" stroke-width="1.1"/><text x="181.5" y="323.6" text-anchor="start" fill="#111" style="font-size:16.5px;font-family:&quot;Liberation Serif&quot;,serif;">3</text><text x="189.1" y="318.1" text-anchor="start" fill="#111" style="font-size:10.5px;font-family:&quot;Liberation Serif&quot;,serif;font-style:italic;">PC</text><text x="212.4" y="376.2" text-anchor="start" fill="#111" style="font-size:16.5px;font-family:&quot;Liberation Serif&quot;,serif;">2</text><text x="220.0" y="370.7" text-anchor="start" fill="#111" style="font-size:10.5px;font-family:&quot;Liberation Serif&quot;,serif;font-style:italic;">DG</text><text x="254.3" y="423.5" text-anchor="start" fill="#111" style="font-size:16.5px;font-family:&quot;Liberation Serif&quot;,serif;">1</text><text x="261.90000000000003" y="418.0" text-anchor="start" fill="#111" style="font-size:10.5px;font-family:&quot;Liberation Serif&quot;,serif;font-style:italic;">Par</text><text x="232.5" y="485.9" text-anchor="start" fill="#111" style="font-size:16.5px;font-family:&quot;Liberation Serif&quot;,serif;">4</text><text x="240.1" y="480.4" text-anchor="start" fill="#111" style="font-size:10.5px;font-family:&quot;Liberation Serif&quot;,serif;font-style:italic;">Ole</text><text x="96.4" y="539.3" text-anchor="start" fill="#111" style="font-size:16.5px;font-family:&quot;Liberation Serif&quot;,serif;">5</text><text x="104.0" y="533.8" text-anchor="start" fill="#111" style="font-size:10.5px;font-family:&quot;Liberation Serif&quot;,serif;font-style:italic;">Raf</text><text x="40.3" y="456" text-anchor="middle" fill="#111" style="font-size:11.5px;font-family:&quot;Liberation Serif&quot;,serif;">Migration</text><text x="40.6" y="468.6" text-anchor="middle" fill="#111" style="font-size:11.5px;font-family:&quot;Liberation Serif&quot;,serif;">Weight</text><rect x="39" y="472.9" width="6.1" height="31" fill="url(#gMig)"/><text x="36" y="480.3" text-anchor="end" fill="#111" style="font-size:8.5px;font-family:&quot;Liberation Serif&quot;,serif;">0.5</text><text x="36.4" y="501.1" text-anchor="end" fill="#111" style="font-size:8.5px;font-family:&quot;Liberation Serif&quot;,serif;">0</text><line x1="40.4" y1="546.5" x2="274.3" y2="546.5" stroke="#666" stroke-width="1.0"/><line x1="40.4" y1="546.5" x2="40.4" y2="545.2" stroke="#666" stroke-width="0.8"/><text x="41.0" y="557.7" text-anchor="middle" fill="#111" style="font-size:10.2px;font-family:&quot;Liberation Serif&quot;,serif;">0.00</text><line x1="87.18" y1="546.5" x2="87.18" y2="545.2" stroke="#666" stroke-width="0.8"/><text x="87.78" y="557.7" text-anchor="middle" fill="#111" style="font-size:10.2px;font-family:&quot;Liberation Serif&quot;,serif;">0.02</text><line x1="133.96" y1="546.5" x2="133.96" y2="545.2" stroke="#666" stroke-width="0.8"/><text x="134.56" y="557.7" text-anchor="middle" fill="#111" style="font-size:10.2px;font-family:&quot;Liberation Serif&quot;,serif;">0.04</text><line x1="180.74" y1="546.5" x2="180.74" y2="545.2" stroke="#666" stroke-width="0.8"/><text x="181.34" y="557.7" text-anchor="middle" fill="#111" style="font-size:10.2px;font-family:&quot;Liberation Serif&quot;,serif;">0.06</text><line x1="227.52" y1="546.5" x2="227.52" y2="545.2" stroke="#666" stroke-width="0.8"/><text x="228.12" y="557.7" text-anchor="middle" fill="#111" style="font-size:10.2px;font-family:&quot;Liberation Serif&quot;,serif;">0.08</text><line x1="274.3" y1="546.5" x2="274.3" y2="545.2" stroke="#666" stroke-width="0.8"/><text x="274.90000000000003" y="557.7" text-anchor="middle" fill="#111" style="font-size:10.2px;font-family:&quot;Liberation Serif&quot;,serif;">0.10</text>
<text x="328" y="317.7" text-anchor="start" fill="#111" style="font-size:21px;font-family:&quot;Liberation Serif&quot;,serif;">d</text><line x1="460.5" y1="330" x2="460.5" y2="530.5" stroke="#bbb" stroke-width="0.8" stroke-dasharray="1,1"/><line x1="526.25" y1="330" x2="526.25" y2="530.5" stroke="#aaa" stroke-width="0.9"/><line x1="593.5" y1="330" x2="593.5" y2="530.5" stroke="#bbb" stroke-width="0.8" stroke-dasharray="1,1"/><path d="M394.6,329.5 L657.5,329.5 L657.5,530.8" fill="none" stroke="#7a7a7a" stroke-width="1.1"/><path d="M394.6,329.5 L394.6,530.8 L657.5,530.8" fill="none" stroke="#6a6a6a" stroke-width="1.2"/><line x1="391.2" y1="530.40" x2="394.6" y2="530.40" stroke="#444" stroke-width="1.1"/><line x1="391.2" y1="490.40" x2="394.6" y2="490.40" stroke="#444" stroke-width="1.1"/><line x1="391.2" y1="450.40" x2="394.6" y2="450.40" stroke="#444" stroke-width="1.1"/><line x1="391.2" y1="410.40" x2="394.6" y2="410.40" stroke="#444" stroke-width="1.1"/><line x1="391.2" y1="370.40" x2="394.6" y2="370.40" stroke="#444" stroke-width="1.1"/><line x1="391.2" y1="330.40" x2="394.6" y2="330.40" stroke="#444" stroke-width="1.1"/><text x="390.5" y="534.8" text-anchor="end" fill="#111" style="font-size:13.8px;font-family:&quot;Liberation Serif&quot;,serif;">0</text><text x="390.5" y="454.79999999999995" text-anchor="end" fill="#111" style="font-size:13.8px;font-family:&quot;Liberation Serif&quot;,serif;">40</text><text x="390.5" y="374.79999999999995" text-anchor="end" fill="#111" style="font-size:13.8px;font-family:&quot;Liberation Serif&quot;,serif;">80</text><line x1="446.125" y1="407.5" x2="446.125" y2="455" stroke="#b8b8b8" stroke-width="0.9"/><rect x="440.25" y="416" width="11.75" height="23" fill="#fd4b4d" stroke="#6e2424" stroke-width="0.9"/><line x1="440.25" y1="430.25" x2="452" y2="430.25" stroke="#6e2424" stroke-width="1"/><line x1="513.25" y1="428.75" x2="513.25" y2="456" stroke="#b8b8b8" stroke-width="0.9"/><rect x="507.5" y="433.5" width="11.5" height="13.0" fill="#fd4b4d" stroke="#6e2424" stroke-width="0.9"/><line x1="507.5" y1="442.5" x2="519" y2="442.5" stroke="#6e2424" stroke-width="1"/><line x1="540.125" y1="396.75" x2="540.125" y2="472.5" stroke="#b8b8b8" stroke-width="0.9"/><rect x="534.25" y="406.5" width="11.75" height="36.25" fill="#1e994b" stroke="#1d3a26" stroke-width="0.9"/><line x1="534.25" y1="433.5" x2="546" y2="433.5" stroke="#1d3a26" stroke-width="1"/><line x1="560.875" y1="425.5" x2="560.875" y2="455" stroke="#b8b8b8" stroke-width="0.9"/><rect x="555" y="435.5" width="11.75" height="14.75" fill="#e9740e" stroke="#5e3a14" stroke-width="0.9"/><line x1="555" y1="443.25" x2="566.75" y2="443.25" stroke="#5e3a14" stroke-width="1"/><line x1="582.75" y1="469.25" x2="582.75" y2="496.25" stroke="#b8b8b8" stroke-width="0.9"/><rect x="577" y="474.25" width="11.5" height="13.25" fill="#fd4b4d" stroke="#6e2424" stroke-width="0.9"/><line x1="577" y1="483.25" x2="588.5" y2="483.25" stroke="#6e2424" stroke-width="1"/><line x1="605.875" y1="427" x2="605.875" y2="478" stroke="#b8b8b8" stroke-width="0.9"/><rect x="600" y="433.25" width="11.75" height="24.5" fill="#1e994b" stroke="#1d3a26" stroke-width="0.9"/><line x1="600" y1="451" x2="611.75" y2="451" stroke="#1d3a26" stroke-width="1"/><line x1="625.25" y1="448.25" x2="625.25" y2="473.75" stroke="#b8b8b8" stroke-width="0.9"/><rect x="619.25" y="456.75" width="12.0" height="12.5" fill="#e9740e" stroke="#5e3a14" stroke-width="0.9"/><line x1="619.25" y1="461.25" x2="631.25" y2="461.25" stroke="#5e3a14" stroke-width="1"/><line x1="644.75" y1="483" x2="644.75" y2="495" stroke="#b8b8b8" stroke-width="0.9"/><rect x="639" y="485.5" width="11.5" height="5.25" fill="#fd4b4d" stroke="#6e2424" stroke-width="0.9"/><line x1="639" y1="488.5" x2="650.5" y2="488.5" stroke="#6e2424" stroke-width="1"/><circle cx="426.75" cy="333.75" r="1.75" fill="#000"/><circle cx="426.75" cy="345" r="1.75" fill="#000"/><circle cx="426.75" cy="352" r="1.75" fill="#000"/><circle cx="492.5" cy="340.75" r="1.75" fill="#000"/><circle cx="492.5" cy="349" r="1.75" fill="#000"/><circle cx="492.5" cy="352" r="1.75" fill="#000"/><circle cx="541.75" cy="364.25" r="1.75" fill="#000"/><circle cx="541.75" cy="369.75" r="1.75" fill="#000"/><circle cx="540" cy="483.25" r="1.75" fill="#000"/><circle cx="606" cy="405.5" r="1.75" fill="#000"/><text x="428.2" y="543" text-anchor="middle" fill="#111" style="font-size:11.6px;font-family:&quot;Liberation Serif&quot;,serif;font-style:italic;">PC DG Par</text><text x="428.2" y="556.2" text-anchor="middle" fill="#111" style="font-size:12.8px;font-family:&quot;Liberation Serif&quot;,serif;">ZJK(NV)</text><text x="493.6" y="543" text-anchor="middle" fill="#111" style="font-size:11.6px;font-family:&quot;Liberation Serif&quot;,serif;font-style:italic;">PC DG Par</text><text x="493.6" y="556.2" text-anchor="middle" fill="#111" style="font-size:12.8px;font-family:&quot;Liberation Serif&quot;,serif;">BJ(NV)</text><text x="559.9" y="543" text-anchor="middle" fill="#111" style="font-size:11.6px;font-family:&quot;Liberation Serif&quot;,serif;font-style:italic;">PC DG Par</text><text x="559.9" y="556.2" text-anchor="middle" fill="#111" style="font-size:12.8px;font-family:&quot;Liberation Serif&quot;,serif;">ZJK(V<tspan dy="-5" style="font-size:8.5px">4W</tspan><tspan dy="5">)</tspan></text><text x="625.5" y="543" text-anchor="middle" fill="#111" style="font-size:11.6px;font-family:&quot;Liberation Serif&quot;,serif;font-style:italic;">PC DG Par</text><text x="625.5" y="556.2" text-anchor="middle" fill="#111" style="font-size:12.8px;font-family:&quot;Liberation Serif&quot;,serif;">BJ(V<tspan dy="-5" style="font-size:8.5px">4W</tspan><tspan dy="5">)</tspan></text><text x="347" y="436" text-anchor="middle" fill="#111" style="font-size:17.3px;font-family:&quot;Liberation Serif&quot;,serif;" transform="rotate(-90 347 436)">Days after gemination</text><text x="368" y="432.5" text-anchor="middle" fill="#111" style="font-size:16.8px;font-family:&quot;Liberation Serif&quot;,serif;" transform="rotate(-90 368 432.5)">(DAG)</text>
</svg>
</body></html>
